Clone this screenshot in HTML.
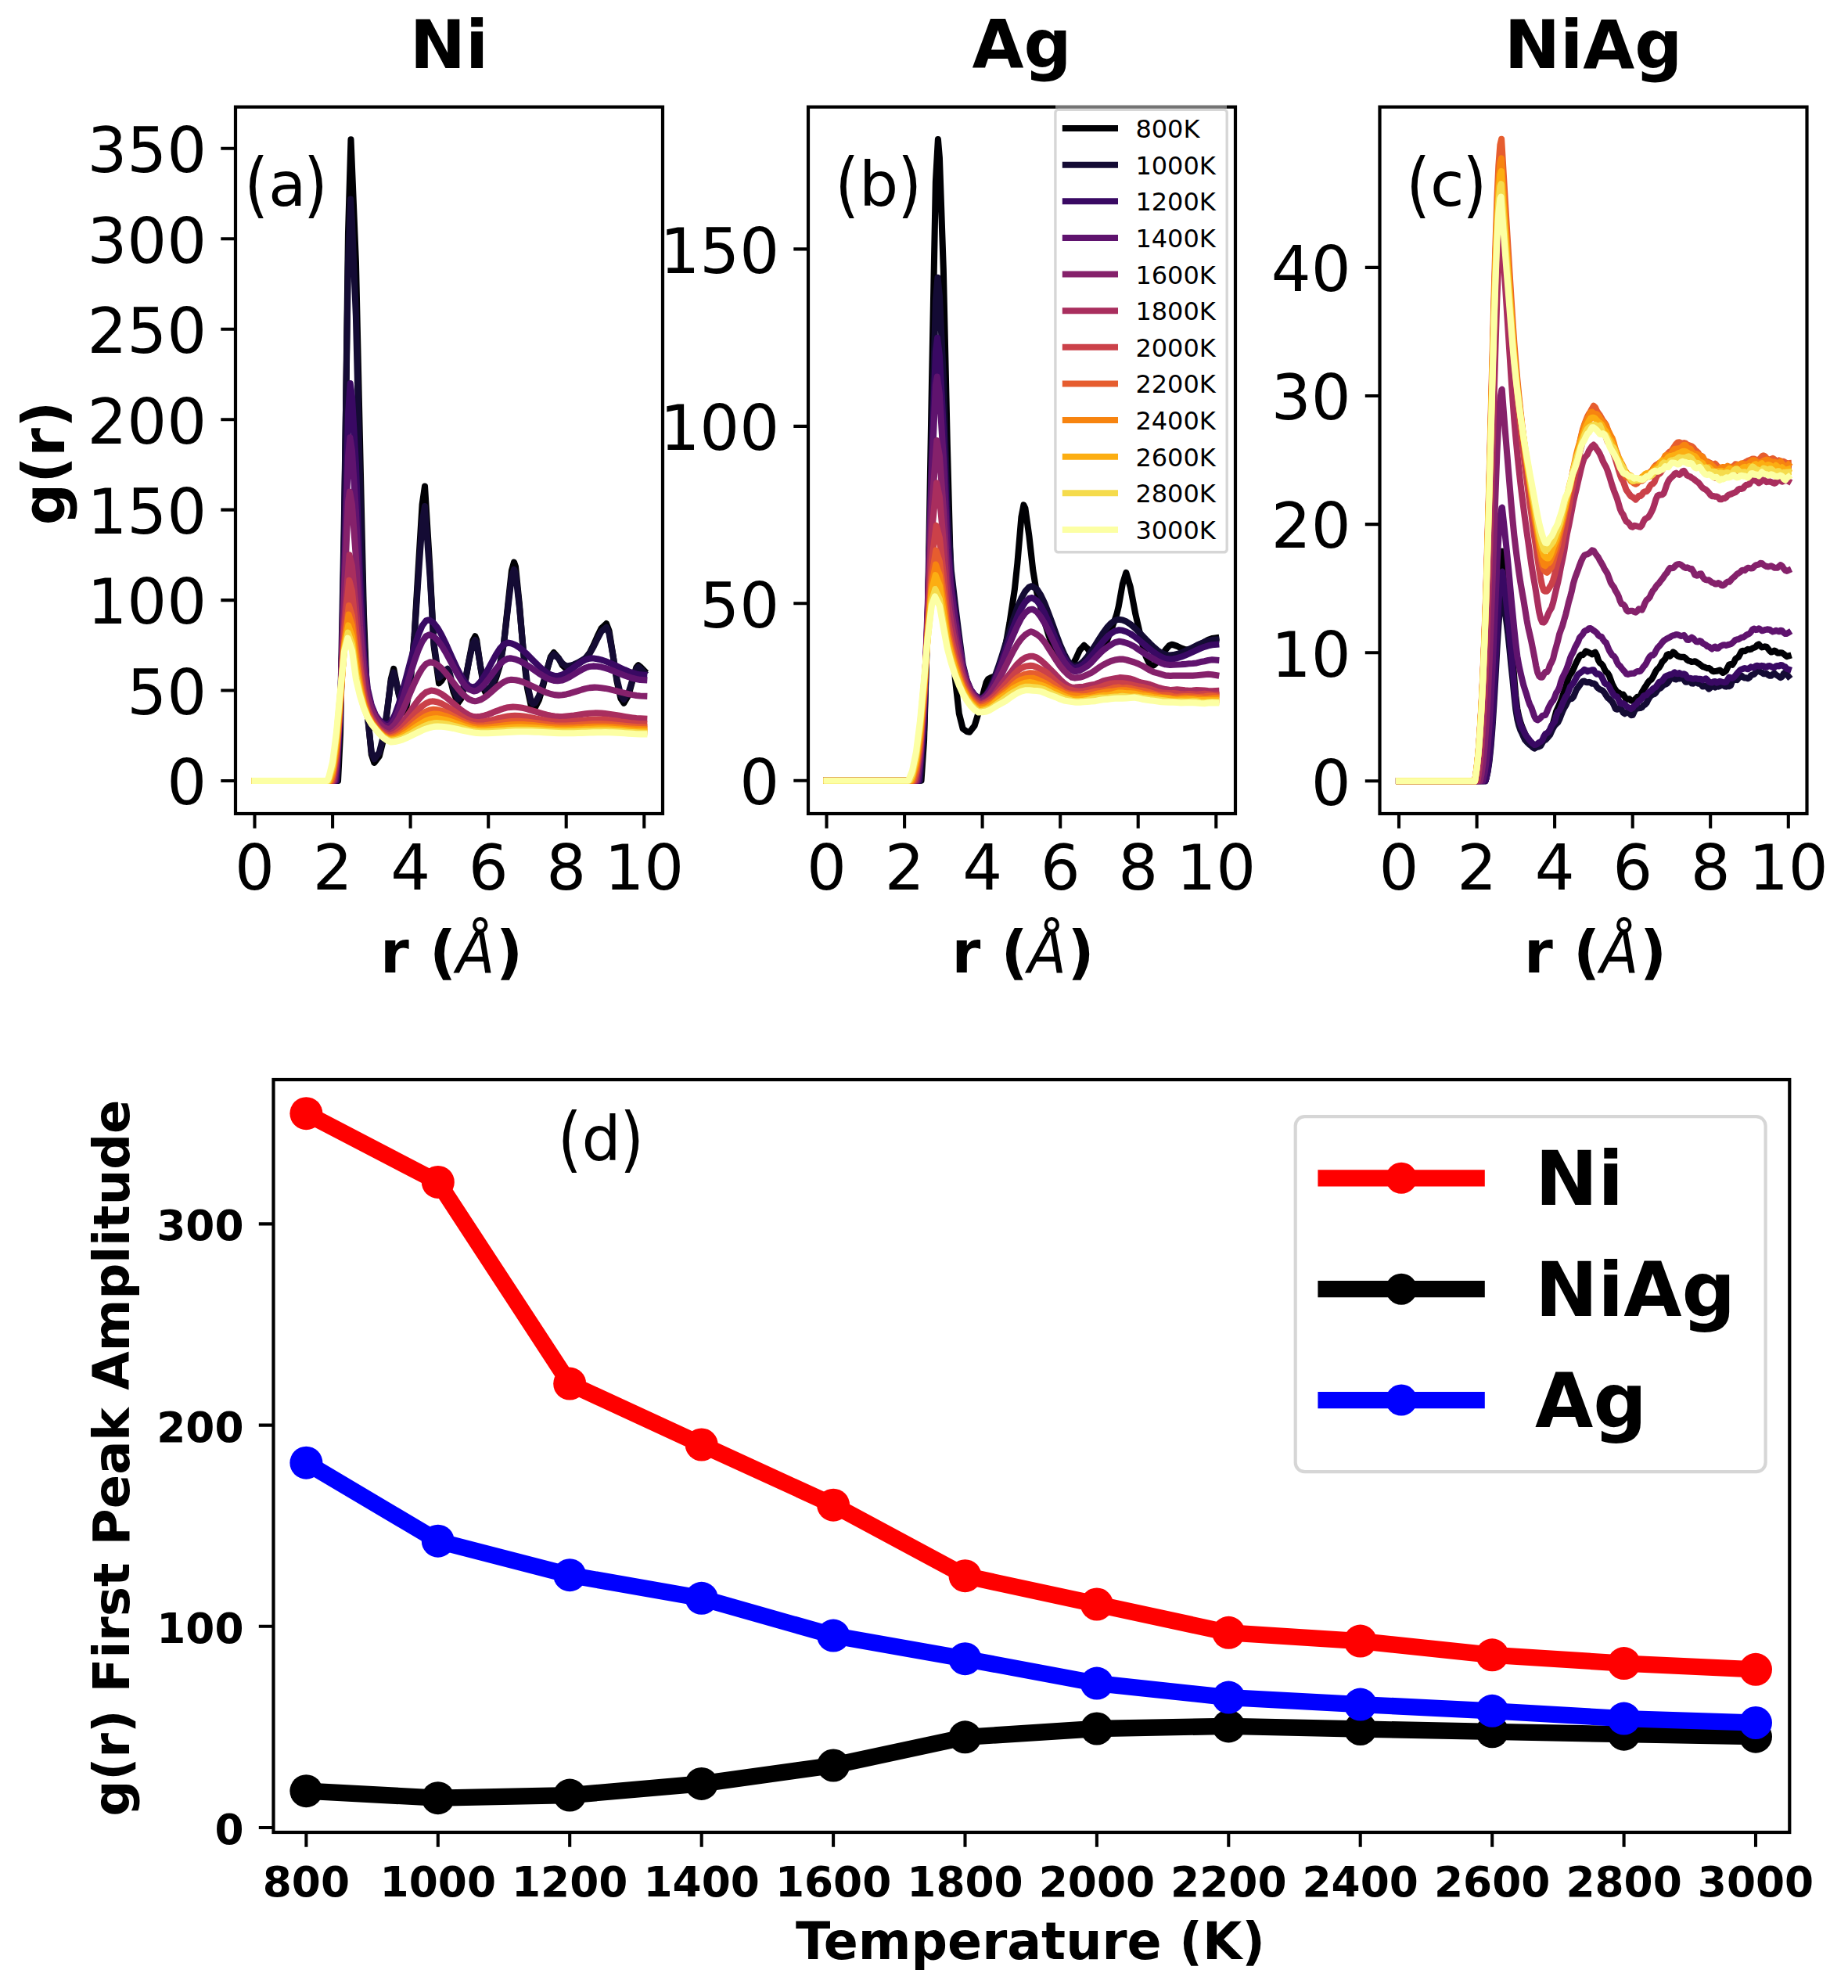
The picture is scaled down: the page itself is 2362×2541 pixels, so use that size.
<!DOCTYPE html>
<html lang="en"><head><meta charset="utf-8"><title>g(r) vs temperature for Ni, Ag and NiAg</title>
<style>html,body{margin:0;padding:0;background:#fff}svg{display:block}text{font-family:'DejaVu Sans','Liberation Sans',sans-serif;fill:#000}</style></head><body>
<svg width="2362" height="2541" viewBox="0 0 2362 2541" role="img" aria-label="Radial distribution functions of Ni, Ag and NiAg versus temperature">
<rect width="2362" height="2541" fill="#fff"/>
<rect x="301" y="136.7" width="546" height="903.3" fill="#fff" stroke="#000" stroke-width="4.2"/>
<path d="M325.5 1040v18.7M425.1 1040v18.7M524.6 1040v18.7M624.2 1040v18.7M723.7 1040v18.7M823.3 1040v18.7M301 998h-18.7M301 882.5h-18.7M301 767.1h-18.7M301 651.6h-18.7M301 536.2h-18.7M301 420.8h-18.7M301 305.3h-18.7M301 189.8h-18.7" stroke="#000" stroke-width="4.1" fill="none"/>
<g font-size="80" text-anchor="middle">
<text x="325.5" y="1136.5">0</text>
<text x="425.1" y="1136.5">2</text>
<text x="524.6" y="1136.5">4</text>
<text x="624.2" y="1136.5">6</text>
<text x="723.7" y="1136.5">8</text>
<text x="823.3" y="1136.5">10</text>
</g>
<g font-size="80" text-anchor="end">
<text x="264.1" y="1028.3">0</text>
<text x="264.1" y="912.8">50</text>
<text x="264.1" y="797.4">100</text>
<text x="264.1" y="681.9">150</text>
<text x="264.1" y="566.5">200</text>
<text x="264.1" y="451.1">250</text>
<text x="264.1" y="335.6">300</text>
<text x="264.1" y="220.1">350</text>
</g>
<g fill="none" stroke-width="8.1" stroke-linejoin="round" stroke-linecap="square">
<path stroke="#000004" d="M325.5 998L432 998L435 938.6L440 680.8L445 298L448.5 178.3L454.9 334.6L459.9 559.6L464.9 783.9L469.9 913.9L474.8 964.5L478.3 974.9L484.8 966.6L489.8 946.5L494.8 910.2L499.7 868.1L503.2 854.8L509.7 887.6L515.7 910.3L519.6 902.6L524.6 871.5L529.6 812.6L534.6 727.8L539.6 645.2L543 621.6L549.5 726.9L554.5 824.9L561 873.3L564.4 870.1L569.4 861.4L571.9 859.5L574.4 863.6L579.4 883.9L585.4 898.7L589.3 893.2L594.3 873.5L599.3 844.7L604.3 819L607.3 813.3L609.2 818.1L614.2 853L619.2 882.6L621.7 887.2L624.2 886.2L629.2 878.9L634.1 866.2L639.1 850.2L644.1 821.3L649.1 774.1L654 729L657 718.6L659 724.4L664 773.7L669 834.6L674 879.7L678.9 902.6L681.4 905.6L683.9 904.3L688.9 894.7L693.9 877.9L698.9 857.4L703.8 839.7L707.8 834.1L713.8 840.9L718.8 850.3L723.7 854.8L728.7 854.1L733.7 852L738.7 848.9L743.7 845.1L748.6 841L753.6 834.5L758.6 824.6L763.6 813.3L768.5 803.2L775 797.1L778.5 806.1L783.5 837.7L788.5 870.8L793.4 892.7L797.4 898.7L803.4 888.5L808.4 869.9L813.3 853.1L815.8 850.2L818.3 852.1L823.3 857.2"/>
<path stroke="#140b34" d="M325.5 998L430.8 998L435 911.9L440 656.3L445 334.5L448.1 254.5L449.9 282.9L454.9 403.7L459.9 607.4L464.9 804.2L469.9 916.8L474.8 961.1L478.3 970.3L484.8 961.7L489.8 941.7L494.8 908L499.7 870.9L503.2 859.5L509.7 886.2L515.7 905.6L519.6 898.3L524.6 868.8L529.6 814.6L534.6 739L539.6 667.3L543 647L549.5 735.7L554.5 821.9L561 866.4L564.4 863.7L569.4 856.4L571.9 854.8L574.4 858.9L579.4 879.2L585.4 894.1L589.3 889L594.3 871L599.3 845.3L604.3 822.9L607.3 817.9L609.2 822L614.2 852.1L619.2 878.4L621.7 882.5L624.2 881.6L629.2 874.7L634.1 862.8L639.1 847.9L644.1 821.1L649.1 777.8L654 737.1L657 727.8L659 733L664 776.9L669 832.4L674 874.7L678.9 896.7L681.4 899.6L683.9 898.4L688.9 889.6L693.9 874.5L698.9 856.5L703.8 841.2L707.8 836.4L713.8 841.3L718.8 848L723.7 851.4L728.7 850.8L733.7 849.3L738.7 847L743.7 844.1L748.6 841L753.6 835.5L758.6 826.7L763.6 816.5L768.5 807.3L775 801.7L778.5 809.7L783.5 837.9L788.5 868L793.4 888.4L797.4 894.1L803.4 885.1L808.4 869.1L813.3 855L815.8 852.5L818.3 854.4L823.3 859.5"/>
<path stroke="#390963" d="M325.5 998L429.5 998L435 914.2L440 729.8L445 529.2L447.7 490L449.9 506.2L454.9 593.7L459.9 734.1L464.9 834.6L469.9 880.3L474.8 901.3L479.8 913.5L484.8 920.6L489.8 924.7L494.8 926.4L499.7 923L504.7 913.7L509.7 899.9L514.7 882.9L519.6 864.2L524.6 845.2L529.6 827.2L534.6 811.7L539.6 799.9L544.5 793.4L547 792.5L549.5 793L554.5 796.5L559.5 802.9L564.4 811.6L569.4 821.7L574.4 832.8L579.4 843.9L584.4 854.6L589.3 864.1L594.3 871.7L599.3 876.8L604.3 878.6L609.2 876.7L614.2 871.4L619.2 863.8L624.2 854.8L629.2 845.4L634.1 836.4L639.1 828.8L644.1 823.5L649.1 821.6L654 822.4L659 824.5L664 827.8L669 831.9L674 836.5L678.9 841.6L683.9 846.6L688.9 851.5L693.9 856L698.9 859.7L703.8 862.4L708.8 863.9L711.3 864.1L713.8 863.9L718.8 862.4L723.7 859.8L728.7 856.5L733.7 852.8L738.7 849.1L743.7 845.7L748.6 843.1L753.6 841.7L756.1 841.4L758.6 841.5L763.6 842.2L768.5 843.4L773.5 845L778.5 847L783.5 849.2L788.5 851.5L793.4 853.8L798.4 856.1L803.4 858.2L808.4 860L813.3 861.4L818.3 862.4L823.3 862.7"/>
<path stroke="#5f136e" d="M325.5 998L428.2 998L430 985L435 902.3L440 738.5L445 582.8L447.4 559.3L449.9 575.6L454.9 654.1L459.9 766.8L464.9 846.3L469.9 884.4L474.8 902.9L479.8 914.3L484.8 921.8L489.8 926.4L495.3 928.7L499.7 926.4L504.7 919L509.7 907.6L514.7 893.3L519.6 877.4L524.6 861L529.6 845.2L534.6 831.2L539.6 820.1L544.5 813.2L548.4 811.4L554.5 813.7L559.5 818.5L564.4 825.2L569.4 833.4L574.4 842.5L579.4 851.9L584.4 861L589.3 869.3L594.3 876.1L599.3 881L605.7 883.5L609.2 882.7L614.2 879.6L619.2 874.6L624.2 868.3L629.2 861.5L634.1 854.8L639.1 848.8L644.1 844.3L649.1 841.7L651.3 841.4L654 841.6L659 842.7L664 844.7L669 847.3L674 850.4L678.9 853.7L683.9 857.2L688.9 860.7L693.9 863.8L698.9 866.6L703.8 868.7L708.8 870L712.7 870.3L718.8 869.4L723.7 867.5L728.7 864.9L733.7 861.9L738.7 858.8L743.7 855.9L748.6 853.5L753.6 851.9L758 851.4L763.6 851.7L768.5 852.6L773.5 853.9L778.5 855.5L783.5 857.4L788.5 859.4L793.4 861.4L798.4 863.4L803.4 865.2L808.4 866.8L813.3 868L818.3 868.9L823.3 869.2"/>
<path stroke="#85216b" d="M325.5 998L427 998L430 977.1L435 896.9L440 758.2L445 641.7L447 628.6L449.9 644.3L454.9 712.4L459.9 799.5L464.9 860.6L469.9 891.4L474.8 907.1L479.8 917.4L484.8 924.7L489.8 929.4L495.9 932.2L499.7 930.9L504.7 926L509.7 918.1L514.7 908.1L519.6 896.8L524.6 885L529.6 873.4L534.6 862.9L539.6 854.4L544.5 848.6L549.8 846.3L554.5 847.3L559.5 850.1L564.4 854.4L569.4 859.9L574.4 866L579.4 872.5L584.4 878.9L589.3 884.8L594.3 889.9L599.3 893.7L604.3 895.8L607 896.2L609.2 896L614.2 894.4L619.2 891.5L624.2 887.7L629.2 883.4L634.1 879L639.1 875L644.1 871.6L649.1 869.4L653.5 868.7L659 869.2L664 870.3L669 871.9L674 874L678.9 876.3L683.9 878.7L688.9 881.1L693.9 883.4L698.9 885.4L703.8 887L708.8 888.1L714.1 888.6L718.8 888.3L723.7 887.4L728.7 886.2L733.7 884.7L738.7 883.1L743.7 881.5L748.6 880.1L753.6 879.1L760 878.6L763.6 878.7L768.5 879.2L773.5 879.9L778.5 880.9L783.5 882.1L788.5 883.3L793.4 884.6L798.4 885.9L803.4 887.1L808.4 888.1L813.3 889L818.3 889.5L823.3 889.7"/>
<path stroke="#a92e5e" d="M325.5 998L425.7 998L430 972.4L435 902.7L440 795.6L446.6 709.4L449.9 723.1L454.9 776.9L459.9 838.2L464.9 881.1L469.9 904L474.8 916.2L479.8 924.5L484.8 930.9L489.8 935.1L496.4 938L499.7 937.4L504.7 934.5L509.7 929.8L514.7 923.6L519.6 916.5L524.6 909L529.6 901.6L534.6 894.7L539.6 889L544.5 884.8L551.2 882.5L554.5 882.9L559.5 884.5L564.4 887.1L569.4 890.6L574.4 894.7L579.4 899L584.4 903.4L589.3 907.5L594.3 911.1L599.3 914L604.3 915.8L608.4 916.3L614.2 915.7L619.2 914.6L624.2 913L629.2 911.1L634.1 909.1L639.1 907.2L644.1 905.5L649.1 904.2L655.7 903.6L659 903.7L664 904.2L669 905.1L674 906.3L678.9 907.8L683.9 909.3L688.9 910.8L693.9 912.3L698.9 913.7L703.8 914.8L708.8 915.6L715.4 916L718.8 916L723.7 915.6L728.7 915.1L733.7 914.5L738.7 913.7L743.7 913L748.6 912.3L753.6 911.8L758.6 911.5L761.9 911.4L768.5 911.6L773.5 912.1L778.5 912.7L783.5 913.4L788.5 914.3L793.4 915.1L798.4 916L803.4 916.8L808.4 917.5L813.3 918.1L818.3 918.4L823.3 918.6"/>
<path stroke="#cb4149" d="M325.5 998L424.4 998L430 966L435 899L440 806.5L446.3 741.7L449.9 755.3L454.9 804.1L459.9 853.6L464.9 888.3L469.9 908L474.8 918.9L479.8 926.5L484.8 932.7L489.8 937.1L494.8 939.8L497 940.3L499.7 940L504.7 938L509.7 934.4L514.7 929.8L519.6 924.3L524.6 918.5L529.6 912.7L534.6 907.2L539.6 902.5L544.5 898.9L549.5 896.8L552.6 896.4L554.5 896.5L559.5 897.5L564.4 899.4L569.4 902L574.4 905.1L579.4 908.4L584.4 911.9L589.3 915.2L594.3 918.2L599.3 920.6L604.3 922.3L609.8 923L614.2 922.8L619.2 922.2L624.2 921.2L629.2 920.1L634.1 918.8L639.1 917.6L644.1 916.5L649.1 915.6L654 915L657.9 914.9L664 915.1L669 915.6L674 916.3L678.9 917.2L683.9 918.2L688.9 919.2L693.9 920.2L698.9 921.2L703.8 922L708.8 922.5L713.8 922.9L716.8 923L718.8 922.9L723.7 922.8L728.7 922.4L733.7 921.9L738.7 921.4L743.7 920.9L748.6 920.3L753.6 919.9L758.6 919.6L763.8 919.5L768.5 919.6L773.5 919.9L778.5 920.4L783.5 921L788.5 921.6L793.4 922.4L798.4 923.1L803.4 923.8L808.4 924.4L813.3 924.8L818.3 925.2L823.3 925.3"/>
<path stroke="#e65d2f" d="M325.5 998L423.2 998L425.1 992.3L430 961.2L435 899.2L440 821.5L445.9 774L449.9 787.1L454.9 830L459.9 868.8L464.9 896.3L469.9 912.7L474.8 922.2L479.8 929.1L484.8 934.9L489.8 939.2L494.8 941.9L497.5 942.6L499.7 942.4L504.7 941L509.7 938.3L514.7 934.7L519.6 930.4L524.6 925.7L529.6 921L534.6 916.5L539.6 912.6L544.5 909.4L549.5 907.4L553.9 906.8L559.5 907.3L564.4 908.6L569.4 910.5L574.4 912.9L579.4 915.5L584.4 918.2L589.3 920.8L594.3 923.2L599.3 925.3L604.3 926.7L609.2 927.5L611.2 927.6L614.2 927.5L619.2 927.2L624.2 926.6L629.2 925.8L634.1 925L639.1 924.1L644.1 923.3L649.1 922.6L654 922L660.1 921.8L664 921.9L669 922.2L674 922.6L678.9 923.2L683.9 923.9L688.9 924.6L693.9 925.4L698.9 926.1L703.8 926.7L708.8 927.2L713.8 927.5L718.2 927.6L723.7 927.5L728.7 927.3L733.7 927L738.7 926.7L743.7 926.3L748.6 926L753.6 925.6L758.6 925.4L763.6 925.3L765.8 925.3L768.5 925.3L773.5 925.5L778.5 925.8L783.5 926.2L788.5 926.7L793.4 927.2L798.4 927.8L803.4 928.3L808.4 928.7L813.3 929.1L818.3 929.3L823.3 929.4"/>
<path stroke="#f78410" d="M325.5 998L421.9 998L425.1 988.1L430 954.1L435 893.1L440 823.1L445.6 785.6L449.9 799.4L454.9 841L459.9 874.5L464.9 898.6L469.9 913.8L474.8 923L479.8 929.8L484.8 935.7L489.8 940.3L494.8 943.2L498.1 944.2L504.7 943L509.7 940.8L514.7 937.8L519.6 934.1L524.6 930.1L529.6 926L534.6 922L539.6 918.4L544.5 915.5L549.5 913.5L555.3 912.6L559.5 912.8L564.4 913.8L569.4 915.3L574.4 917.2L579.4 919.3L584.4 921.6L589.3 923.9L594.3 926.1L599.3 927.9L604.3 929.3L609.2 930.2L612.6 930.3L619.2 930.1L624.2 929.7L629.2 929.2L634.1 928.6L639.1 927.9L644.1 927.3L649.1 926.7L654 926.3L659 926L662.3 926L669 926.1L674 926.5L678.9 926.9L683.9 927.4L688.9 928L693.9 928.6L698.9 929.2L703.8 929.7L708.8 930.1L713.8 930.4L719.6 930.6L723.7 930.5L728.7 930.4L733.7 930.2L738.7 929.9L743.7 929.7L748.6 929.4L753.6 929.1L758.6 928.9L763.6 928.8L767.7 928.7L773.5 928.8L778.5 929.1L783.5 929.4L788.5 929.8L793.4 930.3L798.4 930.7L803.4 931.2L808.4 931.6L813.3 931.9L818.3 932.1L823.3 932.2"/>
<path stroke="#fcae12" d="M325.5 998L420.6 998L425.1 983.8L430 948.2L435 889.9L440 828.3L445.2 799.4L449.9 813.6L454.9 852.8L459.9 881L464.9 901.7L469.9 915.5L474.8 924.2L479.8 930.7L484.8 936.6L489.8 941.3L494.8 944.3L498.6 945.6L504.7 944.8L509.7 943L514.7 940.5L519.6 937.5L524.6 934.1L529.6 930.6L534.6 927.2L539.6 924.1L544.5 921.4L549.5 919.5L554.5 918.5L556.7 918.3L559.5 918.4L564.4 919.1L569.4 920.2L574.4 921.7L579.4 923.4L584.4 925.2L589.3 927.1L594.3 928.9L599.3 930.5L604.3 931.8L609.2 932.6L613.9 932.9L619.2 932.8L624.2 932.5L629.2 932.1L634.1 931.7L639.1 931.2L644.1 930.7L649.1 930.2L654 929.8L659 929.5L664.6 929.4L669 929.5L674 929.7L678.9 930L683.9 930.4L688.9 930.8L693.9 931.3L698.9 931.7L703.8 932.1L708.8 932.5L713.8 932.7L718.8 932.9L721 932.9L723.7 932.9L728.7 932.8L733.7 932.6L738.7 932.4L743.7 932.2L748.6 931.9L753.6 931.7L758.6 931.5L763.6 931.3L769.6 931.3L773.5 931.3L778.5 931.5L783.5 931.8L788.5 932.2L793.4 932.6L798.4 933.1L803.4 933.5L808.4 933.9L813.3 934.2L818.3 934.4L823.3 934.5"/>
<path stroke="#f5db4c" d="M325.5 998L419.4 998L425.1 979.1L430 942L435 886L440 831.2L444.8 808.7L449.9 823.5L454.9 861.3L459.9 885.5L464.9 903.6L469.9 916.5L474.8 924.9L479.8 931.3L484.8 937.2L489.8 942.2L494.8 945.3L499.2 947L504.7 946.4L509.7 945L514.7 943.1L519.6 940.6L524.6 937.9L529.6 935L534.6 932.1L539.6 929.5L544.5 927.2L549.5 925.4L554.5 924.4L558.1 924.1L564.4 924.5L569.4 925.2L574.4 926.3L579.4 927.6L584.4 929L589.3 930.4L594.3 931.8L599.3 933.1L604.3 934.1L609.2 934.8L615.3 935.2L619.2 935.2L624.2 935L629.2 934.7L634.1 934.4L639.1 934.1L644.1 933.7L649.1 933.4L654 933L659 932.8L664 932.7L666.8 932.7L669 932.7L674 932.8L678.9 933L683.9 933.2L688.9 933.5L693.9 933.9L698.9 934.2L703.8 934.5L708.8 934.8L713.8 935L718.8 935.2L722.4 935.2L728.7 935.1L733.7 935L738.7 934.8L743.7 934.6L748.6 934.4L753.6 934.2L758.6 934L763.6 933.9L768.5 933.8L771.6 933.8L773.5 933.8L778.5 933.9L783.5 934.2L788.5 934.5L793.4 934.9L798.4 935.3L803.4 935.7L808.4 936L813.3 936.3L818.3 936.5L823.3 936.6"/>
<path stroke="#fcffa4" d="M325.5 998L418.1 998L420.1 993.9L425.1 974.1L430 935.8L435 882.1L440 833.1L444.5 815.6L449.9 831.3L454.9 867.9L459.9 888.8L464.9 905L469.9 917.1L474.8 925.4L479.8 931.8L484.8 937.8L489.8 943L494.8 946.4L499.7 948.4L504.7 948L509.7 946.9L514.7 945.3L519.6 943.2L524.6 940.9L529.6 938.4L534.6 936L539.6 933.6L544.5 931.6L549.5 930L554.5 928.9L559.5 928.5L564.4 928.7L569.4 929.2L574.4 930L579.4 930.9L584.4 932L589.3 933.2L594.3 934.3L599.3 935.3L604.3 936.2L609.2 936.9L614.2 937.2L616.7 937.3L619.2 937.3L624.2 937.2L629.2 937L634.1 936.7L639.1 936.5L644.1 936.2L649.1 935.9L654 935.6L659 935.4L664 935.2L669 935.2L674 935.2L678.9 935.4L683.9 935.6L688.9 935.8L693.9 936.1L698.9 936.4L703.8 936.6L708.8 936.9L713.8 937.1L718.8 937.2L723.7 937.3L728.7 937.2L733.7 937.2L738.7 937L743.7 936.9L748.6 936.7L753.6 936.5L758.6 936.4L763.6 936.2L768.5 936.2L773.5 936.1L778.5 936.2L783.5 936.4L788.5 936.6L793.4 936.9L798.4 937.3L803.4 937.6L808.4 937.9L813.3 938.2L818.3 938.4L823.3 938.4"/>
</g>
<text x="574" y="87.3" font-size="85.3" font-weight="bold" text-anchor="middle">Ni</text>
<text x="486.1" y="1243" font-size="74.67" font-weight="bold">r (</text>
<text x="583.2" y="1243" font-size="72" font-style="italic" transform="translate(0 1243) scale(1 1.067) translate(0 -1243)">Å</text>
<text x="634" y="1243" font-size="74.67" font-weight="bold">)</text>
<text x="312.2" y="262.7" font-size="79" transform="translate(0 237.9) scale(1 1.16) translate(0 -237.9)">(</text>
<text x="343" y="262.7" font-size="79">a</text>
<text x="387.9" y="262.7" font-size="79" transform="translate(0 237.9) scale(1 1.16) translate(0 -237.9)">)</text>
<rect x="1033" y="136.7" width="546" height="903.3" fill="#fff" stroke="#000" stroke-width="4.2"/>
<path d="M1056.5 1040v18.7M1156.1 1040v18.7M1255.6 1040v18.7M1355.2 1040v18.7M1454.7 1040v18.7M1554.3 1040v18.7M1033 997.8h-18.7M1033 771.3h-18.7M1033 544.9h-18.7M1033 318.4h-18.7" stroke="#000" stroke-width="4.1" fill="none"/>
<g font-size="80" text-anchor="middle">
<text x="1056.5" y="1136.5">0</text>
<text x="1156.1" y="1136.5">2</text>
<text x="1255.6" y="1136.5">4</text>
<text x="1355.2" y="1136.5">6</text>
<text x="1454.7" y="1136.5">8</text>
<text x="1554.3" y="1136.5">10</text>
</g>
<g font-size="80" text-anchor="end">
<text x="996.1" y="1028.1">0</text>
<text x="996.1" y="801.6">50</text>
<text x="996.1" y="575.2">100</text>
<text x="996.1" y="348.7">150</text>
</g>
<g fill="none" stroke-width="8.1" stroke-linejoin="round" stroke-linecap="square">
<path stroke="#000004" d="M1056.5 997.8L1177.5 997.8L1181 947.3L1185.9 780.1L1190.9 495.2L1195.9 232.1L1198.9 178.1L1200.9 201.8L1205.8 343.9L1210.8 567.6L1215.8 759.6L1220.8 867.4L1225.8 912L1230.7 931.5L1235.7 935L1239.2 935.8L1245.7 927.4L1250.6 911.3L1255.6 890.3L1260.6 872L1263.1 867.8L1265.6 866.6L1271.5 864.2L1275.5 858.8L1280.5 844.9L1285.5 823.6L1290.5 795.8L1296.9 753.2L1300.4 719.9L1305.4 661.1L1308.4 645.4L1310.4 649.7L1315.4 685.2L1320.3 728.9L1324.3 753.2L1330.3 777.1L1335.3 795.4L1340.2 811.5L1345.2 825.3L1350.2 836.4L1355.2 844.9L1360.2 850.6L1366.6 853.3L1370.1 851L1375.1 841.9L1380.1 831L1385.5 824.8L1390 828.9L1395 836.8L1398.5 839.3L1405 835.7L1409.9 828.7L1414.9 818.7L1419.9 806.2L1424.9 792.2L1427.4 784.9L1429.8 774.8L1434.8 746.4L1439.3 731.9L1444.8 750.5L1451.3 784.9L1454.7 799.7L1459.7 821.4L1464.7 839.3L1469.7 849.6L1472.2 851.1L1474.7 850.4L1479.6 845.8L1484.6 838.4L1489.6 830.7L1494.6 825L1497.6 823.9L1499.5 824.1L1504.5 825.9L1509.5 828.3L1514.5 830L1516.5 830.2L1519.5 830L1524.4 828.6L1529.4 826.3L1534.4 823.5L1539.4 820.6L1544.3 817.9L1549.3 816L1554.3 815.3"/>
<path stroke="#140b34" d="M1056.5 997.8L1176 997.8L1181 934.9L1185.9 788.2L1190.9 567.3L1195.9 384.5L1198.5 354.7L1200.9 377.8L1205.8 482.5L1210.8 647.9L1215.8 728.9L1220.8 771.9L1225.8 811.8L1230.7 849.2L1235.7 869.5L1240.7 881.7L1245.7 888.3L1250.6 891.6L1253.1 892.3L1255.6 891.7L1260.6 887.2L1265.6 878.8L1270.6 867.4L1275.5 853.7L1280.5 838.4L1285.5 822.3L1290.5 806.2L1295.4 790.7L1300.4 776.6L1305.4 764.7L1310.4 755.7L1315.4 750.3L1318.8 749.2L1325.3 753.1L1330.3 760.7L1335.3 771.3L1340.2 783.9L1345.2 797.5L1350.2 811.4L1355.2 824.6L1360.2 836L1365.1 844.9L1370.1 850.3L1373.6 851.5L1380.1 849.3L1385 845.1L1390 839.2L1395 832.1L1400 824.4L1405 816.5L1409.9 808.9L1414.9 802.1L1419.9 796.7L1424.9 793.1L1429.8 791.7L1434.8 792.5L1439.8 794.6L1444.8 797.9L1449.8 802.1L1454.7 806.8L1459.7 812L1464.7 817.2L1469.7 822.4L1474.7 827.1L1479.6 831.3L1484.6 834.6L1489.6 836.7L1494.6 837.5L1499.5 837.1L1504.5 836L1509.5 834.4L1514.5 832.3L1519.5 830L1524.4 827.5L1529.4 825L1534.4 822.7L1539.4 820.7L1544.3 819L1549.3 817.9L1554.3 817.5"/>
<path stroke="#390963" d="M1056.5 997.8L1174.5 997.8L1181 919.3L1185.9 779.7L1190.9 590.6L1195.9 449.5L1198.1 431.7L1200.9 454.1L1205.8 545.6L1210.8 682.3L1215.8 746.7L1220.8 785L1225.8 820.1L1230.7 852.3L1235.7 870.5L1240.7 882.1L1245.7 888.9L1250.6 892.9L1252.9 893.6L1255.6 893L1260.6 888.7L1265.6 881L1270.6 870.5L1275.5 858L1280.5 844.1L1285.5 829.5L1290.5 814.8L1295.4 800.8L1300.4 788.2L1305.4 777.5L1310.4 769.6L1315.4 765L1318.5 764.1L1320.3 764.4L1325.3 767.9L1330.3 774.6L1335.3 783.9L1340.2 794.9L1345.2 806.8L1350.2 818.8L1355.2 830.2L1360.2 840.2L1365.1 847.9L1370.1 852.7L1373.7 853.8L1380.1 852.1L1385 848.8L1390 844.1L1395 838.4L1400 832.2L1405 825.8L1409.9 819.7L1414.9 814.2L1419.9 809.7L1424.9 806.6L1430.3 805.3L1434.8 805.8L1439.8 807.5L1444.8 810L1449.8 813.3L1454.7 817.2L1459.7 821.3L1464.7 825.6L1469.7 829.8L1474.7 833.7L1479.6 837.1L1484.6 839.9L1489.6 841.7L1495.1 842.5L1499.5 842.2L1504.5 841.2L1509.5 839.7L1514.5 837.8L1519.5 835.6L1524.4 833.3L1529.4 831L1534.4 828.8L1539.4 826.8L1544.3 825.3L1549.3 824.3L1554.3 823.9"/>
<path stroke="#5f136e" d="M1056.5 997.8L1173 997.8L1176 976.9L1181 903.4L1185.9 769.2L1190.9 603.9L1195.9 492L1197.8 481.5L1200.9 503.6L1205.8 586L1210.8 703L1215.8 756.8L1220.8 792.2L1225.8 824.3L1230.7 852.8L1235.7 869.9L1240.7 881.3L1245.7 888.3L1250.6 893L1252.6 894L1255.6 892.9L1260.6 888.7L1265.6 882.1L1270.6 872.5L1275.5 861.3L1280.5 848.9L1285.5 835.3L1290.5 822.7L1295.4 811.1L1300.4 799.8L1305.4 790.2L1310.4 783.3L1315.4 779.5L1318.1 778.8L1320.3 778.9L1325.3 782.1L1330.3 788.6L1335.3 796.9L1340.2 806.5L1345.2 817L1350.2 827.8L1355.2 837.6L1360.2 845.9L1365.1 852.1L1370.1 856.5L1373.9 858.3L1380.1 857L1385 854.4L1390 851.2L1395 846.7L1400 841.3L1405 835.9L1409.9 831.3L1414.9 827.5L1419.9 824.1L1424.9 821.3L1430.8 819.8L1434.8 820.5L1439.8 821.9L1444.8 823.8L1449.8 826.4L1454.7 829.8L1459.7 833.2L1464.7 836.5L1469.7 839.6L1474.7 842.4L1479.6 845.2L1484.6 847.6L1489.6 849.3L1495.6 850L1499.5 849.8L1504.5 849.5L1509.5 849.3L1514.5 848.9L1519.5 848.3L1524.4 848L1529.4 847.4L1534.4 846.1L1539.4 845.2L1544.3 844L1549.3 843.3L1554.3 843.7"/>
<path stroke="#85216b" d="M1056.5 997.8L1171.5 997.8L1176 968.6L1181 898.1L1185.9 781.5L1190.9 649.5L1197.4 563L1200.9 582.6L1205.8 649.3L1210.8 739.5L1215.8 780.9L1220.8 810.4L1225.8 836.9L1230.7 859.9L1235.7 874.3L1240.7 884.5L1245.7 891L1252.4 896.4L1255.6 895.6L1260.6 891.9L1265.6 886.2L1270.6 878.9L1275.5 870.5L1280.5 861.3L1285.5 851.3L1290.5 841.2L1295.4 831.6L1300.4 823.2L1305.4 816.3L1310.4 811.4L1315.4 808.2L1317.8 807.3L1320.3 808.1L1325.3 810.9L1330.3 814.8L1335.3 820.8L1340.2 828.5L1345.2 836.4L1350.2 844.3L1355.2 851.7L1360.2 857.5L1365.1 862.4L1370.1 865.8L1374 866.6L1380.1 865.8L1385 864.3L1390 862.2L1395 859.8L1400 856.6L1405 852.9L1409.9 849.9L1414.9 847.2L1419.9 845L1424.9 843.6L1431.3 842.6L1434.8 842.6L1439.8 843.5L1444.8 845L1449.8 846.5L1454.7 848.4L1459.7 850.8L1464.7 853.7L1469.7 856.7L1474.7 859.1L1479.6 860.4L1484.6 861.9L1489.6 863.4L1496.1 863.9L1499.5 863.6L1504.5 863.5L1509.5 863.6L1514.5 863.6L1519.5 863.5L1524.4 863.6L1529.4 863.2L1534.4 862.7L1539.4 862.3L1544.3 861.8L1549.3 862.2L1554.3 863"/>
<path stroke="#a92e5e" d="M1056.5 997.8L1170 997.8L1176 960.6L1181 892.3L1185.9 788.9L1190.9 680.5L1197.1 617.4L1200.9 635.2L1205.8 691.5L1210.8 763.6L1215.8 797.5L1220.8 823.1L1225.8 845.9L1230.7 865.3L1235.7 878L1240.7 887.1L1245.7 893L1252.1 898.3L1255.6 898.5L1260.6 896.4L1265.6 893.1L1270.6 888.3L1275.5 881.3L1280.5 873.9L1285.5 867.5L1290.5 861.4L1295.4 854.8L1300.4 848.6L1305.4 843.9L1310.4 840.7L1315.4 839L1317.4 838.7L1320.3 838.7L1325.3 840.6L1330.3 844.1L1335.3 848.5L1340.2 853.3L1345.2 858.3L1350.2 863.6L1355.2 868.9L1360.2 873.2L1365.1 876.7L1370.1 878.7L1374.2 878.5L1380.1 878L1385 877.7L1390 876.5L1395 875.6L1400 874.6L1405 872.6L1409.9 870.5L1414.9 869.3L1419.9 868.3L1424.9 867.3L1429.8 866.4L1431.8 866L1434.8 866.2L1439.8 866.7L1444.8 867.5L1449.8 869.2L1454.7 871.3L1459.7 872.8L1464.7 873.7L1469.7 875L1474.7 876.9L1479.6 878.6L1484.6 880L1489.6 881.1L1494.6 881.8L1496.6 882L1499.5 881.7L1504.5 881.4L1509.5 881.7L1514.5 882.3L1519.5 882.7L1524.4 882.5L1529.4 882L1534.4 882.2L1539.4 882.6L1544.3 883L1549.3 883.2L1554.3 883"/>
<path stroke="#cb4149" d="M1056.5 997.8L1168.5 997.8L1171 989L1176 955L1181 891.7L1185.9 803.2L1190.9 716.6L1196.7 671.7L1200.9 687.2L1205.8 733L1210.8 788.3L1215.8 815.5L1220.8 837L1225.8 855.9L1230.7 871.5L1235.7 882.4L1240.7 890.7L1245.7 896.4L1251.9 900.6L1255.6 900L1260.6 898L1265.6 894.6L1270.6 890.3L1275.5 885.5L1280.5 879.9L1285.5 874.1L1290.5 868.4L1295.4 862.6L1300.4 857.5L1305.4 853.9L1310.4 851.8L1317.1 850.7L1320.3 851L1325.3 852.9L1330.3 855.4L1335.3 858L1340.2 861.8L1345.2 866.7L1350.2 871.5L1355.2 875.5L1360.2 878.7L1365.1 880.8L1370.1 882.2L1374.3 883.3L1380.1 883.8L1385 883.3L1390 882.1L1395 880.9L1400 879.8L1405 878.4L1409.9 876.9L1414.9 875.1L1419.9 873.7L1424.9 873.2L1429.8 873.2L1432.3 873.2L1434.8 873.3L1439.8 873.9L1444.8 874.9L1449.8 876.2L1454.7 877.3L1459.7 878L1464.7 879.4L1469.7 880.7L1474.7 882.3L1479.6 884.2L1484.6 885.3L1489.6 885.7L1494.6 886.1L1497.1 886.3L1499.5 886.1L1504.5 886.6L1509.5 887.4L1514.5 887.5L1519.5 887L1524.4 887.4L1529.4 887.8L1534.4 887.3L1539.4 886.9L1544.3 887.2L1549.3 887.7L1554.3 887.9"/>
<path stroke="#e65d2f" d="M1056.5 997.8L1167 997.8L1171 983.8L1176 948.5L1181 888L1185.9 809.1L1190.9 736.8L1196.3 703.4L1200.9 717.7L1205.8 757.4L1210.8 802.6L1215.8 826.3L1220.8 845.5L1225.8 862.2L1230.7 876L1235.7 885.8L1240.7 893.3L1245.7 898.8L1251.6 902.9L1255.6 902.1L1260.6 900.3L1265.6 897.8L1270.6 894.4L1275.5 890.1L1280.5 885.1L1285.5 880.5L1290.5 875.9L1295.4 870.6L1300.4 866.3L1305.4 863.7L1310.4 861.6L1316.7 860.3L1320.3 860.5L1325.3 861.5L1330.3 863.9L1335.3 866.8L1340.2 869.9L1345.2 873.5L1350.2 877.2L1355.2 880.9L1360.2 884.4L1365.1 886.3L1370.1 887L1374.5 887.5L1380.1 887.5L1385 886.9L1390 886.1L1395 884.8L1400 883.6L1405 883.2L1409.9 882.7L1414.9 881.6L1419.9 880.4L1424.9 879L1429.8 878.5L1432.8 879.1L1434.8 879.5L1439.8 879.1L1444.8 879.7L1449.8 881.1L1454.7 882L1459.7 882.7L1464.7 883.8L1469.7 885.2L1474.7 886.7L1479.6 888L1484.6 888.6L1489.6 888.5L1494.6 888.9L1497.6 889.7L1499.5 890.3L1504.5 890.7L1509.5 890.4L1514.5 890.1L1519.5 890.1L1524.4 890.4L1529.4 890.7L1534.4 890.6L1539.4 890.2L1544.3 889.6L1549.3 889.6L1554.3 890.2"/>
<path stroke="#f78410" d="M1056.5 997.8L1165.5 997.8L1171 978.1L1176 941L1181 881.9L1185.9 809.5L1190.9 747.1L1196 721.5L1200.9 735.3L1205.8 771.4L1210.8 810.6L1215.8 832.4L1220.8 850.6L1225.8 866.1L1230.7 878.9L1235.7 888.4L1240.7 895.8L1245.7 900.9L1251.4 904.8L1255.6 904.3L1260.6 902.8L1265.6 900.5L1270.6 897L1275.5 892.7L1280.5 888.4L1285.5 884.4L1290.5 880.4L1295.4 875.7L1300.4 871.6L1305.4 868.8L1310.4 867.4L1316.4 866.8L1320.3 866.7L1325.3 868.3L1330.3 870.8L1335.3 873L1340.2 875.9L1345.2 879.1L1350.2 881.6L1355.2 883.9L1360.2 886.6L1365.1 888.4L1370.1 889.1L1374.6 889.6L1380.1 890.1L1385 890.2L1390 889.8L1395 888.7L1400 887.3L1405 886.2L1409.9 885.2L1414.9 884.3L1419.9 883.9L1424.9 883.2L1429.8 882.5L1433.3 882.2L1439.8 882.4L1444.8 883.2L1449.8 884.1L1454.7 885.1L1459.7 886.5L1464.7 887.5L1469.7 888L1474.7 888.7L1479.6 890L1484.6 891.2L1489.6 891.8L1494.6 892.1L1498 892.7L1504.5 893L1509.5 892.5L1514.5 891.9L1519.5 892.2L1524.4 892.6L1529.4 892.5L1534.4 892.8L1539.4 893.5L1544.3 893.1L1549.3 892.4L1554.3 892.4"/>
<path stroke="#fcae12" d="M1056.5 997.8L1164 997.8L1166 993.1L1171 972.2L1176 933.4L1181 875.8L1185.9 809.1L1190.9 754.8L1195.6 735.1L1200.9 748.5L1205.8 781.9L1210.8 816.5L1215.8 837.2L1220.8 854.6L1225.8 869.3L1230.7 881.4L1235.7 890.7L1240.7 898L1245.7 903.3L1251.1 907.2L1255.6 906.6L1260.6 905.3L1265.6 902.8L1270.6 898.9L1275.5 894.6L1280.5 890.9L1285.5 887.6L1290.5 883.7L1295.4 879.7L1300.4 877L1305.4 874.8L1310.4 872.7L1316.1 871.9L1320.3 872.7L1325.3 874.3L1330.3 875.7L1335.3 877.4L1340.2 879.9L1345.2 882.6L1350.2 884.9L1355.2 887.4L1360.2 889.8L1365.1 891.7L1370.1 893.1L1374.8 893.7L1380.1 893.3L1385 892.4L1390 892L1395 891.7L1400 890.8L1405 889.7L1409.9 888.9L1414.9 888.7L1419.9 888.1L1424.9 886.7L1429.8 885.5L1433.8 885.6L1439.8 886.3L1444.8 886.3L1449.8 886.7L1454.7 888L1459.7 889L1464.7 889.4L1469.7 890.2L1474.7 891.3L1479.6 892.1L1484.6 892.1L1489.6 892.5L1494.6 893.3L1498.5 894.1L1504.5 894.7L1509.5 894.4L1514.5 894.2L1519.5 894.1L1524.4 894.1L1529.4 894.7L1534.4 895.1L1539.4 894.8L1544.3 894.8L1549.3 894.9L1554.3 894.8"/>
<path stroke="#f5db4c" d="M1056.5 997.8L1162.5 997.8L1166 989.4L1171 966.9L1176 928.1L1181 873.7L1185.9 814L1190.9 767.9L1195.3 753.2L1200.9 765.7L1205.8 795.4L1210.8 825.1L1215.8 844.2L1220.8 860.3L1225.8 873.8L1230.7 885L1235.7 893.6L1240.7 900.2L1245.7 905.4L1250.9 909.5L1255.6 908.8L1260.6 907.4L1265.6 905.6L1270.6 902.5L1275.5 898.7L1280.5 895.2L1285.5 891.4L1290.5 887.7L1295.4 884.7L1300.4 882L1305.4 879.4L1310.4 877.9L1315.7 877.9L1320.3 878.3L1325.3 878.8L1330.3 879.8L1335.3 881.4L1340.2 883.8L1345.2 886.5L1350.2 888.7L1355.2 890.8L1360.2 892.8L1365.1 894.2L1370.1 895.7L1374.9 896.4L1380.1 896.1L1385 895.7L1390 894.9L1395 893.8L1400 892.7L1405 891.9L1409.9 891.8L1414.9 891.8L1419.9 891.1L1424.9 890.6L1429.8 890.2L1434.3 889.7L1439.8 890.2L1444.8 890.7L1449.8 890.6L1454.7 890.9L1459.7 891.7L1464.7 892.3L1469.7 893L1474.7 893.7L1479.6 894.2L1484.6 894.9L1489.6 895.6L1494.6 896.2L1499 896.8L1504.5 896.8L1509.5 896.6L1514.5 896.8L1519.5 896.8L1524.4 896.3L1529.4 896.6L1534.4 897.5L1539.4 897.7L1544.3 897.2L1549.3 897L1554.3 897.1"/>
<path stroke="#fcffa4" d="M1056.5 997.8L1161 997.8L1166 985.2L1171 960.8L1176 921.3L1181 868.6L1185.9 813.7L1190.9 773.4L1194.9 762.3L1200.9 774.4L1205.8 802L1210.8 828.9L1215.8 847.5L1220.8 863L1225.8 876L1230.7 886.7L1235.7 895.4L1240.7 902.4L1245.7 907.4L1250.6 910.5L1255.6 910.3L1260.6 909.5L1265.6 907.4L1270.6 904.4L1275.5 901.3L1280.5 898.7L1285.5 895.9L1290.5 892.3L1295.4 888.9L1300.4 885.9L1305.4 883.6L1310.4 882.3L1315.4 882.2L1320.3 882.7L1325.3 883L1330.3 883.7L1335.3 885.6L1340.2 887.8L1345.2 889.6L1350.2 891.4L1355.2 893.7L1360.2 895.4L1365.1 896.3L1370.1 897.1L1375.1 897.7L1380.1 897.6L1385 897.3L1390 896.9L1395 896.5L1400 896.1L1405 895L1409.9 894.2L1414.9 893.9L1419.9 893.3L1424.9 892.7L1429.8 892.6L1434.8 892.6L1439.8 892.5L1444.8 892L1449.8 891.6L1454.7 892.4L1459.7 893.7L1464.7 894.5L1469.7 895.2L1474.7 895.7L1479.6 896.4L1484.6 897.2L1489.6 897.5L1494.6 897.6L1499.5 897.6L1504.5 898L1509.5 898.5L1514.5 898.2L1519.5 898.1L1524.4 898.2L1529.4 898.4L1534.4 899L1539.4 899.3L1544.3 898.5L1549.3 898.2L1554.3 898.4"/>
</g>
<text x="1306" y="85.9" font-size="85.3" font-weight="bold" text-anchor="middle">Ag</text>
<text x="1216.6" y="1243" font-size="74.67" font-weight="bold">r (</text>
<text x="1313.7" y="1243" font-size="72" font-style="italic" transform="translate(0 1243) scale(1 1.067) translate(0 -1243)">Å</text>
<text x="1364.5" y="1243" font-size="74.67" font-weight="bold">)</text>
<text x="1067.2" y="262.7" font-size="79" transform="translate(0 237.9) scale(1 1.16) translate(0 -237.9)">(</text>
<text x="1098" y="262.7" font-size="79">b</text>
<text x="1147.2" y="262.7" font-size="79" transform="translate(0 237.9) scale(1 1.16) translate(0 -237.9)">)</text>
<rect x="1763.5" y="136.7" width="546" height="903.3" fill="#fff" stroke="#000" stroke-width="4.2"/>
<path d="M1788 1040v18.7M1887.6 1040v18.7M1987.1 1040v18.7M2086.7 1040v18.7M2186.2 1040v18.7M2285.8 1040v18.7M1763.5 998.3h-18.7M1763.5 834.2h-18.7M1763.5 670.1h-18.7M1763.5 506h-18.7M1763.5 341.9h-18.7" stroke="#000" stroke-width="4.1" fill="none"/>
<g font-size="80" text-anchor="middle">
<text x="1788" y="1136.5">0</text>
<text x="1887.6" y="1136.5">2</text>
<text x="1987.1" y="1136.5">4</text>
<text x="2086.7" y="1136.5">6</text>
<text x="2186.2" y="1136.5">8</text>
<text x="2285.8" y="1136.5">10</text>
</g>
<g font-size="80" text-anchor="end">
<text x="1726.6" y="1028.6">0</text>
<text x="1726.6" y="864.5">10</text>
<text x="1726.6" y="700.4">20</text>
<text x="1726.6" y="536.3">30</text>
<text x="1726.6" y="372.2">40</text>
</g>
<g fill="none" stroke-width="8.1" stroke-linejoin="round" stroke-linecap="square">
<path stroke="#000004" d="M1788 998.3L1898.5 998.3L1899.5 994.7L1901.5 984.2L1903.5 968.2L1905.5 945.5L1907.5 915.2L1909.5 878L1911.5 835.9L1913.4 792.7L1915.4 753.3L1917.4 723.1L1919.4 706.7L1920.4 704.6L1921.4 711.8L1923.4 728L1925.4 746.2L1927.4 766.5L1929.4 790.6L1931.4 816.3L1933.4 840.6L1935.3 865.8L1937.3 889.4L1939.3 905.8L1941.3 915.7L1943.3 922.8L1945.3 928.6L1947.3 933.3L1949.3 938.1L1951.3 942.9L1953.3 945.8L1955.3 947.4L1957.3 949.4L1959.2 951.3L1961.2 953.3L1963.2 954.4L1965.2 954.1L1967.2 952.9L1969.2 950.1L1971.2 947.7L1973.2 945.4L1975.2 941.3L1977.2 938L1979.2 936.2L1981.1 933.2L1983.1 928.7L1985.1 924.1L1987.1 916.8L1989.1 909.4L1991.1 904.9L1993.1 900.5L1995.1 895.6L1997.1 889.8L1999.1 884.1L2001.1 878.5L2003 871.6L2005 865.6L2007 862.1L2009 859.3L2011 855.4L2013 850.6L2015 846.2L2017 842.5L2019 838.7L2021 836.8L2023 837.3L2025 835.2L2026.9 832.3L2028.9 833L2030.9 834.1L2032.9 835.1L2034.9 836.3L2036.9 835L2038.9 833.7L2040.9 837.6L2042.9 843.7L2044.9 847.4L2046.9 848.7L2048.8 850.9L2050.8 855.5L2052.8 858.9L2054.8 860.3L2056.8 863.6L2058.8 869.2L2060.8 874.7L2062.8 878.5L2064.8 881.9L2066.8 884.4L2068.8 885.2L2070.8 886.9L2072.7 887.8L2074.7 887.6L2076.7 890.7L2078.7 894.1L2080.7 893.5L2082.7 893.3L2084.7 895.6L2086.7 895.9L2088.7 894.9L2090.7 893L2092.7 890.9L2094.6 891.2L2096.6 889.3L2098.6 884.9L2100.6 881.5L2102.6 878.2L2104.6 875.2L2106.6 872L2108.6 869.7L2110.6 868.6L2112.6 865.4L2114.6 861.4L2116.5 857.7L2118.5 854.9L2120.5 853.4L2122.5 850.2L2124.5 846L2126.5 844.1L2128.5 842L2130.5 837.2L2132.5 836.2L2134.5 838.7L2136.5 836.7L2138.5 833.5L2140.4 834.7L2142.4 837L2144.4 838.5L2146.4 839.4L2148.4 839.9L2150.4 839.9L2152.4 839.9L2154.4 841.3L2156.4 843.5L2158.4 844.6L2160.4 845.1L2162.3 846L2164.3 845.8L2166.3 845.2L2168.3 846.2L2170.3 847.6L2172.3 848.9L2174.3 850.5L2176.3 852L2178.3 852.6L2180.3 853.4L2182.3 854.3L2184.2 853.9L2186.2 855.2L2188.2 857.4L2190.2 858.2L2192.2 858L2194.2 857.8L2196.2 857.3L2198.2 856.5L2200.2 858.4L2202.2 859.9L2204.2 858.8L2206.2 857.1L2208.1 853.3L2210.1 849.4L2212.1 849L2214.1 849.8L2216.1 846.9L2218.1 842.3L2220.1 840.9L2222.1 839.7L2224.1 835.8L2226.1 832.2L2228.1 831.8L2230 832.3L2232 831L2234 829.9L2236 830.3L2238 829.9L2240 828.5L2242 827.8L2244 826.8L2246 824.4L2248 823.5L2250 825.9L2251.9 827.4L2253.9 827L2255.9 826.4L2257.9 826.8L2259.9 829.3L2261.9 831.9L2263.9 833.5L2265.9 832.9L2267.9 831.5L2269.9 832.6L2271.9 834.6L2273.9 834.8L2275.8 834.2L2277.8 834.5L2279.8 835.9L2281.8 837.5L2283.8 839.1L2285.8 838.5"/>
<path stroke="#140b34" d="M1788 998.3L1898.5 998.3L1899.5 995.3L1901.5 986.8L1903.5 973.6L1905.5 954.9L1907.5 930L1909.5 899.4L1911.5 864.9L1913.4 829.6L1915.4 797.8L1917.4 773.9L1919.4 761.5L1920.2 760.4L1921.4 767.1L1923.4 779.9L1925.4 794.4L1927.4 810.5L1929.4 829.6L1931.4 849.8L1933.4 868.8L1935.3 888.7L1937.3 906.9L1939.3 919.2L1941.3 927.3L1943.3 933.3L1945.3 937.3L1947.3 941.7L1949.3 945.9L1951.3 948.1L1953.3 950.1L1955.3 952L1957.3 953.4L1959.2 955.3L1961.2 956.6L1963.2 955.5L1965.2 954.6L1967.2 954.4L1969.2 953.2L1971.2 949.7L1973.2 946.5L1975.2 945.7L1977.2 943.8L1979.2 941.6L1981.1 939.2L1983.1 934.9L1985.1 930.6L1987.1 927.2L1989.1 925.3L1991.1 923.5L1993.1 919.7L1995.1 914.5L1997.1 909.4L1999.1 905.3L2001.1 901.9L2003 897.9L2005 894.2L2007 893.4L2009 893L2011 890.8L2013 886.1L2015 881.3L2017 878.7L2019 875.9L2021 872.9L2023 870.8L2025 870.6L2026.9 871.9L2028.9 872.2L2030.9 871.9L2032.9 872.5L2034.9 873.8L2036.9 873.5L2038.9 874.4L2040.9 877.8L2042.9 879.8L2044.9 881.2L2046.9 882L2048.8 883.1L2050.8 885.5L2052.8 888.8L2054.8 891.9L2056.8 893.3L2058.8 895.3L2060.8 897.3L2062.8 901.1L2064.8 905.9L2066.8 906.7L2068.8 905.2L2070.8 905.3L2072.7 907.6L2074.7 910.9L2076.7 912.3L2078.7 910.2L2080.7 909.5L2082.7 911.9L2084.7 914.1L2086.7 914L2088.7 909.7L2090.7 905.9L2092.7 905.6L2094.6 905.1L2096.6 905L2098.6 904.1L2100.6 901.7L2102.6 900.7L2104.6 898.4L2106.6 894.3L2108.6 891.1L2110.6 888.9L2112.6 887.6L2114.6 887L2116.5 885.2L2118.5 882L2120.5 880.3L2122.5 879.5L2124.5 877.4L2126.5 875.5L2128.5 874.8L2130.5 873.9L2132.5 871.6L2134.5 868.4L2136.5 865.3L2138.5 865.1L2140.4 868.1L2142.4 868.4L2144.4 866.7L2146.4 867.5L2148.4 867.3L2150.4 866.4L2152.4 868.7L2154.4 871.7L2156.4 871.8L2158.4 870.3L2160.4 870.9L2162.3 873.5L2164.3 873.6L2166.3 872L2168.3 872.3L2170.3 873.6L2172.3 873.4L2174.3 874.8L2176.3 877.5L2178.3 877.1L2180.3 876.4L2182.3 878.7L2184.2 880.6L2186.2 878.9L2188.2 876.1L2190.2 877L2192.2 878.5L2194.2 877.2L2196.2 877.6L2198.2 877.1L2200.2 875.3L2202.2 875.6L2204.2 877.2L2206.2 877.6L2208.1 876.3L2210.1 877.2L2212.1 876.1L2214.1 870.7L2216.1 868.2L2218.1 868.8L2220.1 869.1L2222.1 866.6L2224.1 863.8L2226.1 863.7L2228.1 865.6L2230 866.5L2232 866.4L2234 867.2L2236 866L2238 863.3L2240 862.5L2242 861.7L2244 859.5L2246 857.1L2248 857.5L2250 859L2251.9 859.6L2253.9 861.2L2255.9 861.3L2257.9 861L2259.9 862.6L2261.9 863.7L2263.9 863.7L2265.9 861.7L2267.9 860.6L2269.9 862.4L2271.9 863.6L2273.9 864.8L2275.8 866.1L2277.8 864.8L2279.8 860.9L2281.8 859.3L2283.8 862L2285.8 864.4"/>
<path stroke="#390963" d="M1788 998.3L1898.5 998.3L1899.5 994.9L1901.5 985.2L1903.5 970.2L1905.5 948.8L1907.5 920.3L1909.5 885.4L1911.5 846.1L1913.4 806.2L1915.4 770.6L1917.4 744.4L1919.4 731.6L1920.1 730.8L1921.4 739.6L1923.4 754.2L1925.4 770.5L1927.4 788.8L1929.4 810.4L1931.4 833L1933.4 854.2L1935.3 876.3L1937.3 896.7L1939.3 910L1941.3 918.3L1943.3 925.4L1945.3 930.2L1947.3 933.9L1949.3 938.1L1951.3 941.2L1953.3 943.8L1955.3 946.5L1957.3 948.7L1959.2 950.7L1961.2 952L1963.2 951.7L1965.2 950.6L1967.2 948.9L1969.2 948.1L1971.2 946.3L1973.2 941.4L1975.2 938L1977.2 937.1L1979.2 935.6L1981.1 932.2L1983.1 927.7L1985.1 925.1L1987.1 922.4L1989.1 915.1L1991.1 909.6L1993.1 908.4L1995.1 904L1997.1 899L1999.1 894.8L2001.1 890.6L2003 888L2005 883.1L2007 877.7L2009 875.5L2011 873L2013 869.5L2015 865.6L2017 862.2L2019 860.6L2021 859.2L2023 857.9L2025 855.9L2026.9 856.5L2028.9 858.3L2030.9 857.3L2032.9 857.1L2034.9 856.4L2036.9 856.3L2038.9 859.9L2040.9 861.7L2042.9 861.1L2044.9 862.4L2046.9 864.5L2048.8 868.4L2050.8 872.9L2052.8 874.4L2054.8 875L2056.8 877.8L2058.8 882L2060.8 885.3L2062.8 888.4L2064.8 889.9L2066.8 890.5L2068.8 894.4L2070.8 898.8L2072.7 899.6L2074.7 899.1L2076.7 900.2L2078.7 902.6L2080.7 903.9L2082.7 904.7L2084.7 906.1L2086.7 904.9L2088.7 901.9L2090.7 900.7L2092.7 898.6L2094.6 895.8L2096.6 894.8L2098.6 892.9L2100.6 889.6L2102.6 888.8L2104.6 888.3L2106.6 885.5L2108.6 883.9L2110.6 882.9L2112.6 880.4L2114.6 879.1L2116.5 878.2L2118.5 875L2120.5 872L2122.5 871.1L2124.5 870.2L2126.5 867.4L2128.5 864.6L2130.5 863.7L2132.5 863.1L2134.5 862L2136.5 862.1L2138.5 860.7L2140.4 859.3L2142.4 861L2144.4 861.2L2146.4 860.1L2148.4 861.3L2150.4 862.2L2152.4 861.3L2154.4 862.4L2156.4 865.8L2158.4 866.8L2160.4 866.7L2162.3 867.4L2164.3 867.7L2166.3 867.3L2168.3 867.2L2170.3 867.9L2172.3 867.8L2174.3 868.1L2176.3 869.4L2178.3 868.5L2180.3 867.3L2182.3 869.1L2184.2 871.3L2186.2 872.2L2188.2 872.4L2190.2 871.3L2192.2 871L2194.2 872.6L2196.2 872L2198.2 870.8L2200.2 871.4L2202.2 871.9L2204.2 872.3L2206.2 871.9L2208.1 868.7L2210.1 865.6L2212.1 866.2L2214.1 867L2216.1 865.6L2218.1 863.3L2220.1 861L2222.1 858.6L2224.1 856.4L2226.1 855.5L2228.1 854.7L2230 854.1L2232 854.7L2234 855.3L2236 854L2238 852.4L2240 853.2L2242 853.4L2244 851.2L2246 850.8L2248 851.6L2250 851.4L2251.9 850.9L2253.9 851.2L2255.9 852.9L2257.9 852.8L2259.9 851.2L2261.9 851.1L2263.9 852.1L2265.9 853L2267.9 853.1L2269.9 851.5L2271.9 851L2273.9 851.5L2275.8 850.1L2277.8 850.3L2279.8 851.7L2281.8 852.4L2283.8 854.8L2285.8 855.5"/>
<path stroke="#5f136e" d="M1788 998.3L1895.2 998.3L1895.5 997L1897.5 987.8L1899.5 974.1L1901.5 954.7L1903.5 928.6L1905.5 895.5L1907.5 856L1909.5 811.9L1911.5 766.1L1913.4 722.7L1915.4 686.1L1917.4 660.5L1919.4 649.2L1919.9 648.8L1921.4 662.3L1923.4 680.6L1925.4 699.6L1927.4 719.5L1929.4 741.1L1931.4 763.3L1933.4 784L1935.3 803.3L1937.3 822.2L1939.3 838.6L1941.3 850.1L1943.3 859.1L1945.3 867.7L1947.3 875.8L1949.3 882.1L1951.3 888.1L1953.3 895L1955.3 900.6L1957.3 904.4L1959.2 909.9L1961.2 915.8L1963.2 919.4L1965.2 920.4L1967.2 919.3L1969.2 917.4L1971.2 915L1973.2 914.4L1975.2 914L1977.2 909.7L1979.2 904.8L1981.1 901L1983.1 897.7L1985.1 895.4L1987.1 891.2L1989.1 885.6L1991.1 882.9L1993.1 878.5L1995.1 871.1L1997.1 865.8L1999.1 861.9L2001.1 857.9L2003 853.2L2005 847.4L2007 840.9L2009 836.4L2011 832.9L2013 827.6L2015 824L2017 820.3L2019 815L2021 812.9L2023 810.6L2025 806.8L2026.9 805.9L2028.9 805.2L2030.9 803.3L2032.9 803.1L2034.9 804.4L2036.9 805.9L2038.9 807.3L2040.9 809L2042.9 812L2044.9 813.5L2046.9 813.8L2048.8 817.2L2050.8 820L2052.8 821.5L2054.8 826.5L2056.8 831.3L2058.8 834.5L2060.8 837.6L2062.8 838.8L2064.8 841.4L2066.8 846.5L2068.8 849.9L2070.8 851.5L2072.7 854.1L2074.7 856.5L2076.7 858.6L2078.7 861.3L2080.7 861.9L2082.7 861.3L2084.7 860.9L2086.7 860.8L2088.7 860.7L2090.7 859L2092.7 858L2094.6 858.3L2096.6 857.9L2098.6 855.3L2100.6 852.2L2102.6 850.1L2104.6 846.8L2106.6 842.6L2108.6 839.2L2110.6 837.4L2112.6 837.5L2114.6 835.9L2116.5 831.7L2118.5 828.3L2120.5 826.1L2122.5 824L2124.5 821.2L2126.5 819L2128.5 817.7L2130.5 816.4L2132.5 815.4L2134.5 814.4L2136.5 813L2138.5 812.3L2140.4 811.9L2142.4 811L2144.4 811.3L2146.4 812L2148.4 813L2150.4 812.8L2152.4 811.9L2154.4 814.7L2156.4 817.7L2158.4 818L2160.4 816.2L2162.3 814.7L2164.3 815.9L2166.3 818.3L2168.3 820.3L2170.3 820.4L2172.3 819.1L2174.3 819.8L2176.3 822.3L2178.3 823.2L2180.3 824.3L2182.3 826.2L2184.2 826.5L2186.2 828.1L2188.2 829.5L2190.2 827.4L2192.2 826.5L2194.2 828.6L2196.2 828.7L2198.2 826.4L2200.2 825.4L2202.2 824.5L2204.2 824.2L2206.2 824.9L2208.1 824.3L2210.1 823.8L2212.1 823.2L2214.1 822L2216.1 820L2218.1 817.9L2220.1 817.4L2222.1 817.2L2224.1 815.9L2226.1 814.7L2228.1 814.5L2230 813.3L2232 811.7L2234 810.8L2236 809.9L2238 807.7L2240 804.4L2242 803.6L2244 805.1L2246 804.7L2248 803.3L2250 804.5L2251.9 806.1L2253.9 805.9L2255.9 805L2257.9 804.6L2259.9 804.4L2261.9 804.7L2263.9 806.3L2265.9 807.4L2267.9 806.9L2269.9 805.8L2271.9 806.7L2273.9 807.3L2275.8 805.7L2277.8 806.2L2279.8 808.7L2281.8 810L2283.8 809.9L2285.8 808.7"/>
<path stroke="#85216b" d="M1788 998.3L1891.8 998.3L1893.5 989.4L1895.5 974.9L1897.5 954.7L1899.5 927.6L1901.5 892.8L1903.5 850.2L1905.5 800.3L1907.5 745L1909.5 686.9L1911.5 630L1913.4 578.5L1915.4 537L1917.4 509.2L1919.4 498L1919.7 497.8L1921.4 520.1L1923.4 545.4L1925.4 570.1L1927.4 594.3L1929.4 618.7L1931.4 642.6L1933.4 664.7L1935.3 683.8L1937.3 700.8L1939.3 716.5L1941.3 731L1943.3 744.3L1945.3 755.8L1947.3 766.9L1949.3 779.1L1951.3 791.7L1953.3 802.4L1955.3 811L1957.3 820L1959.2 829.5L1961.2 839.8L1963.2 850.8L1965.2 859.6L1967.2 864.2L1969.2 865.7L1971.2 865.6L1973.2 861.8L1975.2 858.9L1977.2 859L1979.2 855.9L1981.1 850.1L1983.1 846.5L1985.1 841.9L1987.1 833.3L1989.1 826.3L1991.1 819.2L1993.1 810.6L1995.1 805L1997.1 799.7L1999.1 792.5L2001.1 785.8L2003 778.1L2005 769.6L2007 762.8L2009 754.9L2011 745.7L2013 738.9L2015 733.5L2017 728.1L2019 722.4L2021 717.3L2023 713.1L2025 709.9L2026.9 708.9L2028.9 708.4L2030.9 707.3L2032.9 705.6L2034.9 703.4L2036.9 703.9L2038.9 707.1L2040.9 709.8L2042.9 712.5L2044.9 716.4L2046.9 719.7L2048.8 723.1L2050.8 727.3L2052.8 730.2L2054.8 733.8L2056.8 739.3L2058.8 744.9L2060.8 748L2062.8 750.5L2064.8 755L2066.8 758.1L2068.8 762.2L2070.8 768.4L2072.7 772.1L2074.7 772.4L2076.7 774.6L2078.7 779.6L2080.7 781.5L2082.7 781.1L2084.7 780.8L2086.7 780.8L2088.7 782L2090.7 782.7L2092.7 781.1L2094.6 778.3L2096.6 779.1L2098.6 779.6L2100.6 775.7L2102.6 770.6L2104.6 766.8L2106.6 765.5L2108.6 763.3L2110.6 758.7L2112.6 755.1L2114.6 752.9L2116.5 749.8L2118.5 747.2L2120.5 745.4L2122.5 742.5L2124.5 740.1L2126.5 737.3L2128.5 734.3L2130.5 732.2L2132.5 728.5L2134.5 725.9L2136.5 726.2L2138.5 726L2140.4 724.2L2142.4 722L2144.4 721.2L2146.4 721.1L2148.4 721.8L2150.4 723.2L2152.4 725L2154.4 726L2156.4 725.4L2158.4 726.1L2160.4 727.3L2162.3 727.1L2164.3 730.3L2166.3 734.7L2168.3 735.6L2170.3 735.4L2172.3 733.5L2174.3 733.4L2176.3 737.4L2178.3 740.1L2180.3 741.1L2182.3 741.5L2184.2 741.4L2186.2 742.9L2188.2 744.6L2190.2 745.1L2192.2 746.5L2194.2 746.4L2196.2 745L2198.2 746.1L2200.2 748.2L2202.2 748.4L2204.2 747.1L2206.2 744.8L2208.1 743.6L2210.1 743.8L2212.1 741.8L2214.1 739.2L2216.1 737.8L2218.1 735.8L2220.1 733.7L2222.1 732.6L2224.1 731.4L2226.1 729.2L2228.1 728.7L2230 729.2L2232 727.1L2234 725.8L2236 726.1L2238 726.5L2240 726.2L2242 724.3L2244 722.4L2246 721.9L2248 721.6L2250 719.9L2251.9 720L2253.9 721.9L2255.9 723.1L2257.9 724L2259.9 724.4L2261.9 723.9L2263.9 723.3L2265.9 724.3L2267.9 725.7L2269.9 725.8L2271.9 725.6L2273.9 723.9L2275.8 722.1L2277.8 723.5L2279.8 726.6L2281.8 729L2283.8 729.9L2285.8 729"/>
<path stroke="#a92e5e" d="M1788 998.3L1888.4 998.3L1889.6 991.6L1891.5 975.9L1893.5 954.3L1895.5 925.6L1897.5 888.7L1899.5 843.1L1901.5 788.4L1903.5 725.6L1905.5 656.3L1907.5 583.2L1909.5 510L1911.5 441.1L1913.4 380.9L1915.4 333.9L1917.4 303.7L1919.4 292.7L1919.5 292.7L1921.4 324.2L1923.4 356.5L1925.4 388.2L1927.4 419.2L1929.4 450.4L1931.4 481.4L1933.4 510.6L1935.3 536.2L1937.3 558.7L1939.3 579.7L1941.3 599.1L1943.3 617.3L1945.3 633.9L1947.3 649.3L1949.3 664.6L1951.3 679.1L1953.3 693L1955.3 707.4L1957.3 721.3L1959.2 733.5L1961.2 744.6L1963.2 756.4L1965.2 769.7L1967.2 782L1969.2 790.7L1971.2 795.3L1973.2 795.6L1975.2 793.2L1977.2 788.7L1979.2 783.8L1981.1 780L1983.1 776.8L1985.1 770.3L1987.1 761.6L1989.1 753.1L1991.1 744.8L1993.1 735.2L1995.1 724.3L1997.1 715.1L1999.1 705.3L2001.1 692.6L2003 681.9L2005 672.7L2007 662.4L2009 652L2011 641.4L2013 632.5L2015 624.5L2017 615.7L2019 607L2021 598.4L2023 590.9L2025 585.4L2026.9 583.1L2028.9 580.9L2030.9 576.2L2032.9 573L2034.9 570.2L2036.9 568.6L2038.9 570.8L2040.9 574.1L2042.9 576.9L2044.9 580.3L2046.9 584.8L2048.8 589.7L2050.8 593.6L2052.8 597.1L2054.8 602.1L2056.8 608.1L2058.8 614.7L2060.8 621.2L2062.8 626.9L2064.8 631.9L2066.8 637.2L2068.8 643.9L2070.8 650.9L2072.7 655.1L2074.7 657.8L2076.7 662.9L2078.7 666.7L2080.7 667.7L2082.7 669.8L2084.7 673L2086.7 673.6L2088.7 671.9L2090.7 672.1L2092.7 672.7L2094.6 673.2L2096.6 673.6L2098.6 671.3L2100.6 666.7L2102.6 663.5L2104.6 662.3L2106.6 661.2L2108.6 658.4L2110.6 654.6L2112.6 650.5L2114.6 644.6L2116.5 638.2L2118.5 633.6L2120.5 632.6L2122.5 632.6L2124.5 632.2L2126.5 630.7L2128.5 625.2L2130.5 619.1L2132.5 614.8L2134.5 611.9L2136.5 610.1L2138.5 608.3L2140.4 605.7L2142.4 604.7L2144.4 606L2146.4 606.9L2148.4 605.5L2150.4 602.6L2152.4 601.8L2154.4 604.7L2156.4 607.6L2158.4 608.5L2160.4 609.2L2162.3 610.7L2164.3 611.9L2166.3 613.5L2168.3 615.2L2170.3 616.4L2172.3 618.5L2174.3 621.4L2176.3 623.6L2178.3 624.9L2180.3 625.9L2182.3 627.8L2184.2 629.8L2186.2 632.5L2188.2 634.1L2190.2 634L2192.2 634.8L2194.2 634.6L2196.2 635.6L2198.2 638.2L2200.2 638.2L2202.2 637.1L2204.2 637L2206.2 635.8L2208.1 633.5L2210.1 632.3L2212.1 631.7L2214.1 630.8L2216.1 630L2218.1 629.3L2220.1 627.5L2222.1 625.3L2224.1 624.7L2226.1 624.9L2228.1 624L2230 621.5L2232 619.7L2234 619.6L2236 618.8L2238 615.3L2240 612.9L2242 614.1L2244 614.5L2246 615.6L2248 617.4L2250 616.3L2251.9 614.3L2253.9 613.2L2255.9 614.5L2257.9 616.1L2259.9 615.6L2261.9 615.5L2263.9 616.1L2265.9 617L2267.9 617.9L2269.9 616.9L2271.9 614.3L2273.9 613.2L2275.8 614.6L2277.8 615.6L2279.8 614.9L2281.8 614.3L2283.8 614L2285.8 615.1"/>
<path stroke="#cb4149" d="M1788 998.3L1885.1 998.3L1885.6 995.4L1887.6 981.1L1889.6 961.9L1891.5 936.6L1893.5 904.2L1895.5 863.9L1897.5 815.2L1899.5 758.2L1901.5 693.4L1903.5 622.5L1905.5 547.5L1907.5 471.4L1909.5 397.7L1911.5 330.3L1913.4 273.2L1915.4 229.7L1917.4 202.8L1919.3 194.2L1919.4 195.8L1921.4 230.6L1923.4 264.7L1925.4 298.1L1927.4 330.9L1929.4 363.6L1931.4 396.5L1933.4 428L1935.3 456.7L1937.3 481.7L1939.3 504.3L1941.3 525.6L1943.3 545.5L1945.3 563.6L1947.3 580.8L1949.3 597.1L1951.3 612.3L1953.3 628.3L1955.3 643.5L1957.3 656.9L1959.2 671.8L1961.2 686.4L1963.2 699.3L1965.2 713.2L1967.2 727.3L1969.2 739.2L1971.2 749.2L1973.2 754.8L1975.2 755.8L1977.2 755.6L1979.2 753L1981.1 749.9L1983.1 746.7L1985.1 741.3L1987.1 734.3L1989.1 725.5L1991.1 717.3L1993.1 710.5L1995.1 702.5L1997.1 692.4L1999.1 681.5L2001.1 670.4L2003 660.4L2005 650L2007 637.6L2009 627L2011 617.2L2013 606.4L2015 597.2L2017 588.4L2019 579.3L2021 571.5L2023 563.7L2025 554.9L2026.9 546.3L2028.9 541.1L2030.9 538L2032.9 534.6L2034.9 533.3L2036.9 532.8L2038.9 532.7L2040.9 533L2042.9 534.1L2044.9 539.1L2046.9 544.1L2048.8 546.8L2050.8 551.6L2052.8 559.1L2054.8 565L2056.8 567.1L2058.8 570.3L2060.8 576L2062.8 581.1L2064.8 587L2066.8 593.9L2068.8 600.5L2070.8 607.2L2072.7 612.1L2074.7 615.2L2076.7 620.8L2078.7 626.3L2080.7 629L2082.7 631.9L2084.7 634.4L2086.7 635.2L2088.7 636.9L2090.7 638.6L2092.7 636.4L2094.6 633.8L2096.6 634L2098.6 632.4L2100.6 629.2L2102.6 628.3L2104.6 628.2L2106.6 625.8L2108.6 621.9L2110.6 619.2L2112.6 618.5L2114.6 616.1L2116.5 610.8L2118.5 607L2120.5 605.8L2122.5 604.1L2124.5 600.9L2126.5 597.5L2128.5 595.5L2130.5 594.3L2132.5 591.7L2134.5 589.5L2136.5 588L2138.5 585L2140.4 583L2142.4 581.7L2144.4 580.9L2146.4 580.9L2148.4 579.3L2150.4 577.5L2152.4 576.9L2154.4 577.8L2156.4 581.1L2158.4 582.7L2160.4 581.7L2162.3 580.5L2164.3 580.7L2166.3 584.3L2168.3 588L2170.3 589.8L2172.3 593.3L2174.3 594.6L2176.3 593.2L2178.3 595.4L2180.3 598.4L2182.3 599.5L2184.2 600.8L2186.2 603L2188.2 605.8L2190.2 609.7L2192.2 610.9L2194.2 608.3L2196.2 607.6L2198.2 609.2L2200.2 610.2L2202.2 610.9L2204.2 610.3L2206.2 608.1L2208.1 607.4L2210.1 607.7L2212.1 606.8L2214.1 605.6L2216.1 604.9L2218.1 605.4L2220.1 605.7L2222.1 602.8L2224.1 600.3L2226.1 601.6L2228.1 601.2L2230 598.7L2232 597.3L2234 598.3L2236 599.3L2238 598.3L2240 598.2L2242 597.4L2244 595.4L2246 594.5L2248 591.8L2250 589.5L2251.9 591.1L2253.9 593.8L2255.9 596L2257.9 597.3L2259.9 597.6L2261.9 597.9L2263.9 598.4L2265.9 598.3L2267.9 598.3L2269.9 599.8L2271.9 601.2L2273.9 600.6L2275.8 598.8L2277.8 597.8L2279.8 597.1L2281.8 597.5L2283.8 598.8L2285.8 598.9"/>
<path stroke="#e65d2f" d="M1788 998.3L1885.1 998.3L1885.6 995.3L1887.6 980.7L1889.6 960.9L1891.5 934.8L1893.5 901.4L1895.5 859.8L1897.5 809.6L1899.5 750.8L1901.5 684.2L1903.5 611.1L1905.5 534L1907.5 456L1909.5 380.7L1911.5 312.2L1913.4 254.5L1915.4 211.2L1917.4 185.1L1919.1 177.8L1919.4 182.5L1921.4 216.6L1923.4 250L1925.4 282.8L1927.4 315L1929.4 347.2L1931.4 379.4L1933.4 410.2L1935.3 438L1937.3 462.2L1939.3 484.7L1941.3 505.6L1943.3 524.6L1945.3 542.8L1947.3 560L1949.3 575.5L1951.3 590.2L1953.3 605.2L1955.3 619.9L1957.3 634.3L1959.2 649.7L1961.2 663.5L1963.2 674.3L1965.2 685.5L1967.2 699.5L1969.2 713.3L1971.2 722.9L1973.2 728.2L1975.2 730.6L1977.2 731.8L1979.2 730.1L1981.1 727.4L1983.1 724.6L1985.1 717.9L1987.1 709.9L1989.1 704.1L1991.1 697L1993.1 686.8L1995.1 677L1997.1 669L1999.1 661.4L2001.1 651.1L2003 640.4L2005 631.9L2007 622L2009 609.5L2011 599.4L2013 593.7L2015 587.3L2017 577.4L2019 567L2021 557.1L2023 548.7L2025 542.9L2026.9 537.7L2028.9 532.7L2030.9 529L2032.9 526L2034.9 522.2L2036.9 518.8L2038.9 520.5L2040.9 525.2L2042.9 528L2044.9 530.7L2046.9 534.4L2048.8 537.6L2050.8 540L2052.8 543.1L2054.8 548.8L2056.8 555.5L2058.8 561.6L2060.8 566.4L2062.8 570.3L2064.8 574.3L2066.8 579.2L2068.8 584.8L2070.8 589.3L2072.7 594.3L2074.7 601L2076.7 607.5L2078.7 610.2L2080.7 609.9L2082.7 611.1L2084.7 613.9L2086.7 616.1L2088.7 617.8L2090.7 618.7L2092.7 617.6L2094.6 615.4L2096.6 614.6L2098.6 614.7L2100.6 613.3L2102.6 610.8L2104.6 609.5L2106.6 607.6L2108.6 603.9L2110.6 602.2L2112.6 600.3L2114.6 596.5L2116.5 594.5L2118.5 593.4L2120.5 591.9L2122.5 590.9L2124.5 590L2126.5 587.2L2128.5 583.4L2130.5 581.3L2132.5 578.9L2134.5 577.2L2136.5 576.1L2138.5 573.1L2140.4 570.3L2142.4 567.4L2144.4 565.5L2146.4 565.4L2148.4 566.1L2150.4 566.5L2152.4 566.1L2154.4 566.7L2156.4 568.3L2158.4 569L2160.4 569.7L2162.3 570.5L2164.3 572.1L2166.3 575L2168.3 576.7L2170.3 578.3L2172.3 581.8L2174.3 582.5L2176.3 583.7L2178.3 588.5L2180.3 589.6L2182.3 589.9L2184.2 591L2186.2 591.9L2188.2 594.7L2190.2 594L2192.2 592.7L2194.2 595L2196.2 597.1L2198.2 598.2L2200.2 598.3L2202.2 598L2204.2 598.7L2206.2 597.7L2208.1 596.5L2210.1 597.5L2212.1 597.1L2214.1 596.4L2216.1 595.8L2218.1 593.4L2220.1 593.5L2222.1 594.8L2224.1 594L2226.1 593.2L2228.1 592.4L2230 591.2L2232 590.1L2234 588.9L2236 588.3L2238 587.4L2240 586.6L2242 586.6L2244 587.4L2246 588.5L2248 588L2250 585.8L2251.9 583.4L2253.9 582.3L2255.9 583.4L2257.9 585.9L2259.9 587.1L2261.9 587.2L2263.9 586.8L2265.9 585.8L2267.9 587.1L2269.9 590.1L2271.9 590.2L2273.9 588.4L2275.8 589.2L2277.8 590L2279.8 589.8L2281.8 591.1L2283.8 592.2L2285.8 592.1"/>
<path stroke="#f78410" d="M1788 998.3L1885.1 998.3L1885.6 995.4L1887.6 981.1L1889.6 961.7L1891.5 936.2L1893.5 903.5L1895.5 862.7L1897.5 813.5L1899.5 755.9L1901.5 690.6L1903.5 619.1L1905.5 543.8L1907.5 467.8L1909.5 394.7L1911.5 328.5L1913.4 273.1L1915.4 232.1L1917.4 208.1L1919 202.4L1919.4 209.7L1921.4 241.5L1923.4 272.8L1925.4 303.4L1927.4 333.4L1929.4 363.5L1931.4 393.6L1933.4 422.3L1935.3 448.2L1937.3 471.2L1939.3 491.7L1941.3 510.3L1943.3 528.7L1945.3 545.7L1947.3 560.6L1949.3 575L1951.3 590.1L1953.3 604.3L1955.3 617.7L1957.3 631.1L1959.2 644.1L1961.2 656.8L1963.2 669L1965.2 680.9L1967.2 693.9L1969.2 706L1971.2 715.3L1973.2 722.1L1975.2 723.2L1977.2 720.5L1979.2 719.8L1981.1 717.9L1983.1 712.7L1985.1 707.9L1987.1 702.1L1989.1 695.5L1991.1 688.5L1993.1 681.4L1995.1 674L1997.1 663.9L1999.1 654.9L2001.1 648.6L2003 638.9L2005 628.6L2007 621.1L2009 610.9L2011 598.9L2013 589.3L2015 580L2017 572.4L2019 565.8L2021 558.1L2023 550.4L2025 543.9L2026.9 539.3L2028.9 535.5L2030.9 531.2L2032.9 527.2L2034.9 526.6L2036.9 528.5L2038.9 529L2040.9 529.2L2042.9 531.3L2044.9 534.3L2046.9 537.3L2048.8 539.6L2050.8 541.6L2052.8 545.1L2054.8 549L2056.8 552.9L2058.8 557L2060.8 560.4L2062.8 566.5L2064.8 574.2L2066.8 582.3L2068.8 589L2070.8 591.5L2072.7 592.5L2074.7 596.3L2076.7 601.2L2078.7 603.8L2080.7 606.8L2082.7 611.5L2084.7 615.3L2086.7 615.4L2088.7 614.2L2090.7 613.5L2092.7 614.1L2094.6 614.2L2096.6 611.7L2098.6 609.7L2100.6 608.6L2102.6 606.8L2104.6 605.6L2106.6 606.3L2108.6 607.1L2110.6 604.5L2112.6 599.4L2114.6 596.9L2116.5 596.5L2118.5 595.2L2120.5 592.9L2122.5 590.8L2124.5 589.5L2126.5 586.4L2128.5 582.2L2130.5 581.5L2132.5 582.6L2134.5 582L2136.5 579.2L2138.5 575.4L2140.4 573.8L2142.4 573.8L2144.4 573.4L2146.4 573.5L2148.4 572.7L2150.4 570.4L2152.4 568.7L2154.4 569L2156.4 572L2158.4 573.4L2160.4 573.4L2162.3 576.1L2164.3 579.4L2166.3 580.3L2168.3 580.1L2170.3 581L2172.3 582.4L2174.3 583L2176.3 584.5L2178.3 587.3L2180.3 590.1L2182.3 591.7L2184.2 592.2L2186.2 593.1L2188.2 595.1L2190.2 596.8L2192.2 599.2L2194.2 601.6L2196.2 601.1L2198.2 598.9L2200.2 597.4L2202.2 597L2204.2 597.6L2206.2 597L2208.1 595.7L2210.1 596.6L2212.1 598.2L2214.1 598L2216.1 597.6L2218.1 597.4L2220.1 595.3L2222.1 594L2224.1 593.5L2226.1 592.2L2228.1 592.9L2230 593.8L2232 593.5L2234 592.9L2236 591.5L2238 589.8L2240 588.2L2242 588.2L2244 589.2L2246 590.8L2248 591.8L2250 591.3L2251.9 590.3L2253.9 589.1L2255.9 588.3L2257.9 587.6L2259.9 587.9L2261.9 589.1L2263.9 590.2L2265.9 590.8L2267.9 590.4L2269.9 591.3L2271.9 592.9L2273.9 591.4L2275.8 589.9L2277.8 592.5L2279.8 595.1L2281.8 596.5L2283.8 596.1L2285.8 594"/>
<path stroke="#fcae12" d="M1788 998.3L1885.1 998.3L1885.6 995.4L1887.6 981.3L1889.6 962.2L1891.5 937L1893.5 904.6L1895.5 864.3L1897.5 815.6L1899.5 758.5L1901.5 693.9L1903.5 623.3L1905.5 549.1L1907.5 474.3L1909.5 402.6L1911.5 338L1913.4 284.4L1915.4 245.3L1917.4 223.2L1918.8 218.8L1919.4 228.5L1921.4 258.6L1923.4 288.1L1925.4 317L1927.4 345.4L1929.4 373.9L1931.4 402.3L1933.4 429.3L1935.3 453.5L1937.3 475.1L1939.3 494.8L1941.3 512.8L1943.3 529.5L1945.3 545.2L1947.3 560L1949.3 574.5L1951.3 588.8L1953.3 602L1955.3 615L1957.3 627.3L1959.2 638L1961.2 649L1963.2 661.5L1965.2 673.9L1967.2 685.8L1969.2 695.9L1971.2 703.6L1973.2 709.6L1975.2 712.1L1977.2 713.5L1979.2 713.5L1981.1 710.4L1983.1 705.5L1985.1 699.5L1987.1 694.3L1989.1 689.6L1991.1 682L1993.1 673.9L1995.1 668.5L1997.1 661.9L1999.1 653.2L2001.1 644.9L2003 635.8L2005 625L2007 616.5L2009 610.6L2011 602.2L2013 592.8L2015 585L2017 577.6L2019 569.8L2021 562.3L2023 556.8L2025 551.6L2026.9 546.2L2028.9 541.9L2030.9 538L2032.9 534.8L2034.9 533.7L2036.9 533.7L2038.9 534.8L2040.9 537.1L2042.9 539.2L2044.9 540.6L2046.9 542.3L2048.8 545.9L2050.8 549.4L2052.8 551.4L2054.8 555.6L2056.8 560.3L2058.8 562.7L2060.8 567.1L2062.8 572.1L2064.8 575.8L2066.8 581.3L2068.8 585.3L2070.8 588.4L2072.7 594.2L2074.7 598.2L2076.7 601L2078.7 605.4L2080.7 607.7L2082.7 607.3L2084.7 608.2L2086.7 611.8L2088.7 612.9L2090.7 611.7L2092.7 612.6L2094.6 613.2L2096.6 611.5L2098.6 609.8L2100.6 608.2L2102.6 606.1L2104.6 605L2106.6 604.7L2108.6 604.7L2110.6 604.6L2112.6 602.5L2114.6 600.2L2116.5 598.8L2118.5 597.6L2120.5 595.2L2122.5 590.7L2124.5 588.4L2126.5 589.2L2128.5 588.7L2130.5 586.5L2132.5 584L2134.5 583L2136.5 583L2138.5 582.2L2140.4 581.7L2142.4 580.9L2144.4 579.6L2146.4 579L2148.4 578.1L2150.4 577L2152.4 576.7L2154.4 577.1L2156.4 578.2L2158.4 579.8L2160.4 580.5L2162.3 581.3L2164.3 582.6L2166.3 583.2L2168.3 585.5L2170.3 588.7L2172.3 590.3L2174.3 590.9L2176.3 592.2L2178.3 595.5L2180.3 598.2L2182.3 597.8L2184.2 597.1L2186.2 599.1L2188.2 600.8L2190.2 602.5L2192.2 604.5L2194.2 603.4L2196.2 602.1L2198.2 602L2200.2 601.9L2202.2 602.6L2204.2 603L2206.2 602.6L2208.1 600.7L2210.1 598.9L2212.1 599.6L2214.1 601L2216.1 601.9L2218.1 600.7L2220.1 599.1L2222.1 600.5L2224.1 600.9L2226.1 599.4L2228.1 597.3L2230 596.8L2232 598.6L2234 597.2L2236 595.8L2238 597.3L2240 596.8L2242 594L2244 593.2L2246 596L2248 596.7L2250 593.4L2251.9 592.2L2253.9 595.6L2255.9 597.1L2257.9 594.8L2259.9 594L2261.9 594.5L2263.9 595.7L2265.9 597.4L2267.9 596.8L2269.9 594.8L2271.9 596.4L2273.9 600.7L2275.8 600L2277.8 597.4L2279.8 599.4L2281.8 601.4L2283.8 600.4L2285.8 599.7"/>
<path stroke="#f5db4c" d="M1788 998.3L1885.1 998.3L1885.6 995.5L1887.6 981.6L1889.6 962.7L1891.5 937.8L1893.5 905.8L1895.5 865.9L1897.5 817.7L1899.5 761.3L1901.5 697.4L1903.5 627.7L1905.5 554.5L1907.5 480.9L1909.5 410.7L1911.5 347.8L1913.4 296L1915.4 258.7L1917.4 238.5L1918.6 235.2L1919.4 247L1921.4 275.3L1923.4 303.1L1925.4 330.4L1927.4 357.1L1929.4 384.1L1931.4 410.8L1933.4 436.1L1935.3 458.8L1937.3 479.3L1939.3 498.1L1941.3 515.1L1943.3 530.3L1945.3 544.8L1947.3 558.9L1949.3 572.7L1951.3 585.6L1953.3 597.4L1955.3 609.7L1957.3 622.3L1959.2 633.5L1961.2 643.9L1963.2 655L1965.2 667.5L1967.2 679.6L1969.2 688.5L1971.2 695.9L1973.2 702L1975.2 704.1L1977.2 702.9L1979.2 700.1L1981.1 697.6L1983.1 695.3L1985.1 692.4L1987.1 687.5L1989.1 681.8L1991.1 677.3L1993.1 671.5L1995.1 662.8L1997.1 653.9L1999.1 646.2L2001.1 638.7L2003 632.5L2005 626.8L2007 620.1L2009 610.7L2011 600.7L2013 593.2L2015 586.2L2017 579.6L2019 574.1L2021 568.5L2023 562.2L2025 556.4L2026.9 551.8L2028.9 548.3L2030.9 546.2L2032.9 545.1L2034.9 544.1L2036.9 542.9L2038.9 543.1L2040.9 545.5L2042.9 544.8L2044.9 543.8L2046.9 548.4L2048.8 553.2L2050.8 554.4L2052.8 556.2L2054.8 560.3L2056.8 564.3L2058.8 568.6L2060.8 571.2L2062.8 572.9L2064.8 579.1L2066.8 585.9L2068.8 589.5L2070.8 592.1L2072.7 594.8L2074.7 598.1L2076.7 602.8L2078.7 606.8L2080.7 608.2L2082.7 609.9L2084.7 612.8L2086.7 614.7L2088.7 614.8L2090.7 614L2092.7 613.9L2094.6 614L2096.6 612.4L2098.6 611.5L2100.6 612L2102.6 611.4L2104.6 609.3L2106.6 608.4L2108.6 609.2L2110.6 608.2L2112.6 606.5L2114.6 603.6L2116.5 600.8L2118.5 600.1L2120.5 599.3L2122.5 597L2124.5 593.3L2126.5 591.4L2128.5 592.1L2130.5 593.8L2132.5 592.5L2134.5 589.3L2136.5 588.5L2138.5 588.1L2140.4 587.6L2142.4 587.3L2144.4 585.5L2146.4 584.4L2148.4 584.8L2150.4 585L2152.4 585L2154.4 585L2156.4 583.9L2158.4 583.3L2160.4 584.5L2162.3 586L2164.3 589.3L2166.3 592.4L2168.3 591.9L2170.3 592L2172.3 593.8L2174.3 596.2L2176.3 598.6L2178.3 598.8L2180.3 597.5L2182.3 598.3L2184.2 601.8L2186.2 603.1L2188.2 602.7L2190.2 603.1L2192.2 602.8L2194.2 604.7L2196.2 606.4L2198.2 604.3L2200.2 604.2L2202.2 605.8L2204.2 605L2206.2 604.1L2208.1 604L2210.1 605.9L2212.1 607L2214.1 604.5L2216.1 601.5L2218.1 599.6L2220.1 599.6L2222.1 601.4L2224.1 603.2L2226.1 603.6L2228.1 603.5L2230 603.3L2232 604.1L2234 604.6L2236 602.3L2238 598.8L2240 596.4L2242 597.7L2244 599.6L2246 600.1L2248 601.2L2250 602.4L2251.9 601.5L2253.9 598.6L2255.9 598.9L2257.9 601.2L2259.9 600.6L2261.9 599.2L2263.9 599.5L2265.9 601.2L2267.9 603.2L2269.9 603.7L2271.9 602.4L2273.9 602.4L2275.8 604.7L2277.8 605.1L2279.8 603.9L2281.8 604L2283.8 603.5L2285.8 603.4"/>
<path stroke="#fcffa4" d="M1788 998.3L1885.1 998.3L1885.6 995.5L1887.6 981.8L1889.6 963.2L1891.5 938.6L1893.5 907L1895.5 867.5L1897.5 819.8L1899.5 764L1901.5 700.9L1903.5 632.1L1905.5 560L1907.5 487.7L1909.5 419L1911.5 357.7L1913.4 307.7L1915.4 272.3L1917.4 254L1918.4 251.6L1919.4 265.1L1921.4 291.7L1923.4 317.8L1925.4 343.5L1927.4 368.6L1929.4 394L1931.4 419.1L1933.4 442.9L1935.3 464.1L1937.3 482.8L1939.3 500.2L1941.3 516.5L1943.3 531.4L1945.3 545.1L1947.3 558.5L1949.3 571L1951.3 582.2L1953.3 593.7L1955.3 605.1L1957.3 615.8L1959.2 626.2L1961.2 637L1963.2 648.2L1965.2 658.9L1967.2 668.8L1969.2 676.6L1971.2 683.9L1973.2 689.8L1975.2 693.9L1977.2 694.3L1979.2 690.2L1981.1 687.5L1983.1 685.5L1985.1 681.6L1987.1 676.8L1989.1 673.3L1991.1 669.2L1993.1 662.6L1995.1 656.9L1997.1 650.2L1999.1 641.3L2001.1 635.1L2003 631.4L2005 626L2007 617.2L2009 608.9L2011 603.4L2013 598.4L2015 592.4L2017 585.6L2019 577.7L2021 570.3L2023 565.8L2025 562.7L2026.9 558.4L2028.9 554.6L2030.9 552.8L2032.9 549.5L2034.9 546.3L2036.9 546.4L2038.9 547.9L2040.9 549.7L2042.9 552.3L2044.9 554.9L2046.9 555.1L2048.8 554.2L2050.8 555.6L2052.8 559.5L2054.8 564.4L2056.8 569.3L2058.8 573.8L2060.8 576.8L2062.8 580L2064.8 583.9L2066.8 587.4L2068.8 592.9L2070.8 598.1L2072.7 601.3L2074.7 604.5L2076.7 605.7L2078.7 605.6L2080.7 607.6L2082.7 609L2084.7 608.8L2086.7 610.2L2088.7 611.6L2090.7 611L2092.7 611.1L2094.6 611.7L2096.6 612.2L2098.6 613.4L2100.6 612.8L2102.6 610.4L2104.6 608.9L2106.6 608.8L2108.6 607.5L2110.6 604.7L2112.6 602.9L2114.6 602.1L2116.5 602L2118.5 602.8L2120.5 602.3L2122.5 600.8L2124.5 600.4L2126.5 598.6L2128.5 596.2L2130.5 596.8L2132.5 597.1L2134.5 594L2136.5 591.6L2138.5 591.6L2140.4 591.7L2142.4 592.6L2144.4 593.5L2146.4 593L2148.4 590.9L2150.4 589.8L2152.4 590.6L2154.4 590.8L2156.4 592.3L2158.4 592.9L2160.4 591.8L2162.3 592.4L2164.3 595.2L2166.3 597.7L2168.3 598.4L2170.3 597.7L2172.3 596.9L2174.3 599.2L2176.3 602.6L2178.3 604.9L2180.3 606.6L2182.3 606.9L2184.2 606.4L2186.2 607L2188.2 608.4L2190.2 610.2L2192.2 610.3L2194.2 609.8L2196.2 612.5L2198.2 613.8L2200.2 612.4L2202.2 612.5L2204.2 611.6L2206.2 610.4L2208.1 610.5L2210.1 610.3L2212.1 609.6L2214.1 607.6L2216.1 607.3L2218.1 609.4L2220.1 610.4L2222.1 610L2224.1 608.2L2226.1 607.7L2228.1 608.7L2230 608.4L2232 609.3L2234 610.5L2236 608.6L2238 605.2L2240 605L2242 606.6L2244 606.4L2246 606.7L2248 608.2L2250 606L2251.9 603.4L2253.9 605.2L2255.9 606.2L2257.9 606.3L2259.9 607.5L2261.9 607.1L2263.9 606.2L2265.9 606.9L2267.9 608.1L2269.9 608.9L2271.9 609.1L2273.9 608.4L2275.8 607.6L2277.8 608.6L2279.8 612.1L2281.8 613.7L2283.8 611.1L2285.8 609.6"/>
</g>
<text x="2036.5" y="87.3" font-size="85.3" font-weight="bold" text-anchor="middle">NiAg</text>
<text x="1948.1" y="1243" font-size="74.67" font-weight="bold">r (</text>
<text x="2045.2" y="1243" font-size="72" font-style="italic" transform="translate(0 1243) scale(1 1.067) translate(0 -1243)">Å</text>
<text x="2096" y="1243" font-size="74.67" font-weight="bold">)</text>
<text x="1797.2" y="262.7" font-size="79" transform="translate(0 237.9) scale(1 1.16) translate(0 -237.9)">(</text>
<text x="1828" y="262.7" font-size="79">c</text>
<text x="1869.5" y="262.7" font-size="79" transform="translate(0 237.9) scale(1 1.16) translate(0 -237.9)">)</text>
<text x="81.5" y="592" font-size="74.7" font-weight="bold" text-anchor="middle" transform="rotate(-90 81.5 592)">g(r)</text>
<rect x="1348.9" y="140.4" width="219.3" height="565.3" rx="3.5" fill="#fff" fill-opacity="0.8" stroke="#ccc" stroke-opacity="0.8" stroke-width="3.4"/>
<rect x="1349" y="134.2" width="219" height="4.6" fill="#fff" fill-opacity="0.45"/>
<g stroke-width="8" fill="none">
<path stroke="#000004" d="M1357.8 164.1H1429"/>
<path stroke="#140b34" d="M1357.8 210.7H1429"/>
<path stroke="#390963" d="M1357.8 257.3H1429"/>
<path stroke="#5f136e" d="M1357.8 304H1429"/>
<path stroke="#85216b" d="M1357.8 350.6H1429"/>
<path stroke="#a92e5e" d="M1357.8 397.2H1429"/>
<path stroke="#cb4149" d="M1357.8 443.8H1429"/>
<path stroke="#e65d2f" d="M1357.8 490.4H1429"/>
<path stroke="#f78410" d="M1357.8 537.1H1429"/>
<path stroke="#fcae12" d="M1357.8 583.7H1429"/>
<path stroke="#f5db4c" d="M1357.8 630.3H1429"/>
<path stroke="#fcffa4" d="M1357.8 676.9H1429"/>
</g>
<g font-size="32">
<text x="1451.4" y="176">800K</text>
<text x="1451.4" y="222.6">1000K</text>
<text x="1451.4" y="269.2">1200K</text>
<text x="1451.4" y="315.9">1400K</text>
<text x="1451.4" y="362.5">1600K</text>
<text x="1451.4" y="409.1">1800K</text>
<text x="1451.4" y="455.7">2000K</text>
<text x="1451.4" y="502.3">2200K</text>
<text x="1451.4" y="549">2400K</text>
<text x="1451.4" y="595.6">2600K</text>
<text x="1451.4" y="642.2">2800K</text>
<text x="1451.4" y="688.8">3000K</text>
</g>
<rect x="349.5" y="1380" width="1937.8" height="962" fill="#fff" stroke="#000" stroke-width="4.2"/>
<path d="M391.4 2342v18.7M559.8 2342v18.7M728.2 2342v18.7M896.7 2342v18.7M1065.1 2342v18.7M1233.5 2342v18.7M1401.9 2342v18.7M1570.3 2342v18.7M1738.7 2342v18.7M1907.2 2342v18.7M2075.6 2342v18.7M2244 2342v18.7M349.5 2336h-18.7M349.5 2078.8h-18.7M349.5 1821.6h-18.7M349.5 1564.4h-18.7" stroke="#000" stroke-width="4.1" fill="none"/>
<g font-size="53.33" font-weight="bold" text-anchor="middle">
<text x="391.4" y="2424">800</text>
<text x="559.8" y="2424">1000</text>
<text x="728.2" y="2424">1200</text>
<text x="896.7" y="2424">1400</text>
<text x="1065.1" y="2424">1600</text>
<text x="1233.5" y="2424">1800</text>
<text x="1401.9" y="2424">2000</text>
<text x="1570.3" y="2424">2200</text>
<text x="1738.7" y="2424">2400</text>
<text x="1907.2" y="2424">2600</text>
<text x="2075.6" y="2424">2800</text>
<text x="2244" y="2424">3000</text>
</g>
<g font-size="53.33" font-weight="bold" text-anchor="end">
<text x="311.6" y="2357">0</text>
<text x="311.6" y="2099.8">100</text>
<text x="311.6" y="1842.6">200</text>
<text x="311.6" y="1585.4">300</text>
</g>
<path fill="none" stroke="#f00" stroke-width="21.3" stroke-linejoin="round" stroke-linecap="square" d="M391.4 1423.2L559.8 1510.9L728.2 1768.6L896.7 1846.5L1065.1 1923.7L1233.5 2014.2L1401.9 2050.5L1570.3 2086.8L1738.7 2097.6L1907.2 2115.3L2075.6 2126.1L2244 2133.8"/>
<g fill="#f00"><circle cx="391.4" cy="1423.2" r="21"/><circle cx="559.8" cy="1510.9" r="21"/><circle cx="728.2" cy="1768.6" r="21"/><circle cx="896.7" cy="1846.5" r="21"/><circle cx="1065.1" cy="1923.7" r="21"/><circle cx="1233.5" cy="2014.2" r="21"/><circle cx="1401.9" cy="2050.5" r="21"/><circle cx="1570.3" cy="2086.8" r="21"/><circle cx="1738.7" cy="2097.6" r="21"/><circle cx="1907.2" cy="2115.3" r="21"/><circle cx="2075.6" cy="2126.1" r="21"/><circle cx="2244" cy="2133.8" r="21"/></g>
<path fill="none" stroke="#000" stroke-width="21.3" stroke-linejoin="round" stroke-linecap="square" d="M391.4 2289.2L559.8 2298.2L728.2 2294.6L896.7 2279.9L1065.1 2256.5L1233.5 2220.3L1401.9 2209.5L1570.3 2206.4L1738.7 2210L1907.2 2213.3L2075.6 2216.7L2244 2219.7"/>
<g fill="#000"><circle cx="391.4" cy="2289.2" r="21"/><circle cx="559.8" cy="2298.2" r="21"/><circle cx="728.2" cy="2294.6" r="21"/><circle cx="896.7" cy="2279.9" r="21"/><circle cx="1065.1" cy="2256.5" r="21"/><circle cx="1233.5" cy="2220.3" r="21"/><circle cx="1401.9" cy="2209.5" r="21"/><circle cx="1570.3" cy="2206.4" r="21"/><circle cx="1738.7" cy="2210" r="21"/><circle cx="1907.2" cy="2213.3" r="21"/><circle cx="2075.6" cy="2216.7" r="21"/><circle cx="2244" cy="2219.7" r="21"/></g>
<path fill="none" stroke="#00f" stroke-width="21.3" stroke-linejoin="round" stroke-linecap="square" d="M391.4 1869.7L559.8 1969.7L728.2 2013.2L896.7 2042.8L1065.1 2090.6L1233.5 2120.2L1401.9 2151.6L1570.3 2169.6L1738.7 2178.6L1907.2 2186.8L2075.6 2196.6L2244 2202"/>
<g fill="#00f"><circle cx="391.4" cy="1869.7" r="21"/><circle cx="559.8" cy="1969.7" r="21"/><circle cx="728.2" cy="2013.2" r="21"/><circle cx="896.7" cy="2042.8" r="21"/><circle cx="1065.1" cy="2090.6" r="21"/><circle cx="1233.5" cy="2120.2" r="21"/><circle cx="1401.9" cy="2151.6" r="21"/><circle cx="1570.3" cy="2169.6" r="21"/><circle cx="1738.7" cy="2178.6" r="21"/><circle cx="1907.2" cy="2186.8" r="21"/><circle cx="2075.6" cy="2196.6" r="21"/><circle cx="2244" cy="2202" r="21"/></g>
<text x="712.7" y="1483.2" font-size="79" transform="translate(0 1458.4) scale(1 1.16) translate(0 -1458.4)">(</text>
<text x="743.5" y="1483.2" font-size="79">d</text>
<text x="792.2" y="1483.2" font-size="79" transform="translate(0 1458.4) scale(1 1.16) translate(0 -1458.4)">)</text>
<rect x="1655.7" y="1427.1" width="600.9" height="454.1" rx="12" fill="#fff" fill-opacity="0.8" stroke="#ccc" stroke-opacity="0.8" stroke-width="4.2"/>
<path stroke="#f00" stroke-width="21.3" d="M1684.4 1505.8H1897.8"/>
<circle cx="1791.1" cy="1505.8" r="20" fill="#f00"/>
<text x="1962" y="1540" font-size="96" font-weight="bold">Ni</text>
<path stroke="#000" stroke-width="21.3" d="M1684.4 1647.7H1897.8"/>
<circle cx="1791.1" cy="1647.7" r="20" fill="#000"/>
<text x="1962" y="1681.9" font-size="96" font-weight="bold">NiAg</text>
<path stroke="#00f" stroke-width="21.3" d="M1684.4 1789.6H1897.8"/>
<circle cx="1791.1" cy="1789.6" r="20" fill="#00f"/>
<text x="1962" y="1823.8" font-size="96" font-weight="bold">Ag</text>
<text x="1317" y="2504" font-size="65" font-weight="bold" text-anchor="middle">Temperature (K)</text>
<text x="165" y="1863.5" font-size="64" font-weight="bold" text-anchor="middle" transform="rotate(-90 165 1863.5)">g(r) First Peak Amplitude</text>
</svg></body></html>
